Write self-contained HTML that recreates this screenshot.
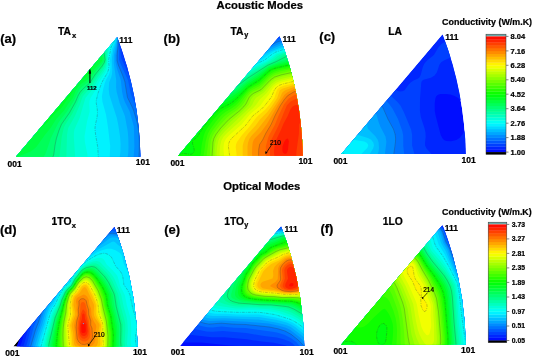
<!DOCTYPE html>
<html><head><meta charset="utf-8"><style>
html,body{margin:0;padding:0;background:#fff;width:533px;height:357px;overflow:hidden}
svg{display:block;will-change:transform}
text{font-family:"Liberation Sans",sans-serif;font-weight:bold;fill:#000;stroke:#000;stroke-width:0.22px}
.tk{font-size:8px}
</style></head><body>
<svg width="533" height="357" viewBox="0 0 533 357">
<rect width="533" height="357" fill="#fff"/>
<clipPath id="clipa"><path d="M16.0 156.8L140.4 156.8A351.2 351.2 0 0 0 117.2 37.3Z"/></clipPath>
<g clip-path="url(#clipa)">
<path d="M16.0 156.8L140.4 156.8A351.2 351.2 0 0 0 117.2 37.3Z" fill="#0026ff"/>
<path d="M14.8 158.8L143 158.8 143 97.6 133.6 74.1 124.1 53.1 121.2 41.1 121.3 38.8 122.5 34.3 14 34.3 14 158.8Z" fill="#0026ff"/>
<path d="M14.8 158.8L143 158.8 143 106.2 131.6 75.6 122.8 54.9 120.1 40.3 121.5 34.3 14 34.3 14 158.8Z" fill="#0040ff"/>
<path d="M14.8 158.8L143 158.8 143 116.5 139.3 105.6 134.1 92.1 129.6 77.1 121.3 58.3 119.2 40.3 120.6 34.3 14 34.3 14 158.8Z" fill="#0059ff"/>
<path d="M14.8 158.8L143 158.8 143 134.7 140.5 120.6 136.2 107.1 130.9 94.3 128 80.1 119.8 62.1 119 59.8 119.1 46.3 118.5 40.3 119.7 34.3 14 34.3 14 158.8Z" fill="#0073ff"/>
<path d="M14.8 158.8L138.7 158.8 139.3 149.8 139.3 140.8 138.6 131.1 137.3 122.8 133.2 109.2 127.4 97.3 124.8 81.6 123 76.3 118.3 65 117.1 60.6 117.1 55.3 118.1 45.6 118 40.3 118.9 34.3 14 34.3 14 158.8Z" fill="#008cff"/>
<path d="M14.8 158.8L133.5 158.8 134.4 146.8 133.9 126.6 129.5 110.9 125 102.3 123.4 98.1 122.1 92.1 120.8 80.1 117 68.8 115.5 62.1 115.4 55.3 117.1 45.6 118.1 34.3 14 34.3 14 158.8Z" fill="#00a6ff"/>
<path d="M14.8 158.8L127.4 158.8 128.2 153.6 128.5 147.6 128.3 137.8 127.7 131.1 124.9 116.1 119.7 103.3 116.7 92.1 116.1 87.6 116.2 80.1 113.8 63.6 113.9 55.3 116.6 42.6 117.3 34.3 14 34.3 14 158.8Z" fill="#00bfff"/>
<path d="M14.8 158.8L119.5 158.8 120.4 152.1 120.6 143.8 120 136.3 118.3 125.1 116.7 117.6 109.4 95.1 108.7 89.1 109.2 82.3 111.3 77.1 112 74.1 112.3 69.6 111.9 62.1 112 57.6 113.3 50.1 116.3 41.1 116.5 34.3 14 34.3 14 158.8Z" fill="#00d9ff"/>
<path d="M14.8 158.8L109.7 158.8 110.2 146.1 108.1 128.1 106 114.6 102.5 101.9 101.9 96.6 103.2 89.1 104.8 83.1 106.2 79.4 108.9 74.8 110.1 71.1 110.5 66.6 109.9 59.8 112.2 48.6 115.8 40.3 115.6 34.3 14 34.3 14 158.8Z" fill="#00f2ff"/>
<path d="M14.8 158.8L98.4 158.8 97.8 147.6 95.6 134.8 95 128.8 95.2 125.8 97 117.6 97.5 113.1 97.3 109.3 96.3 103.3 96.3 100.3 97.9 93.6 101.3 83.8 103.1 80.1 107 73.5 108.3 70.3 109 65.8 108.6 59.8 111.1 47.1 114.9 40.3 114.7 34.3 14 34.3 14 158.8Z" fill="#00fff2"/>
<path d="M14.8 158.8L87.5 158.8 87.4 154.3 84.9 142.3 84.5 136.3 87.1 121.3 89.7 111.6 89.3 104.1 89.5 101.1 90.5 98.1 95.3 90.6 99.5 81.6 104.9 73.3 106.8 69.6 107.8 65.7 107.8 59.8 109.3 47.8 110.3 44.8 113 41.8 113.8 40.3 114 38 113.7 34.3 14 34.3 14 158.8Z" fill="#00ffd9"/>
<path d="M14.8 158.8L75.3 158.8 73.8 137.1 73.9 132.6 74.4 129.6 79.5 118.3 85.4 98.1 93.5 88.3 97.9 80.1 103.8 71.8 105.8 68.1 106.9 63.6 108.1 47.1 109.2 44.1 112.5 39.6 112.8 37.3 112.6 34.3 14 34.3 14 158.8Z" fill="#00ffbf"/>
<path d="M14.8 158.8L66.3 158.8 67 134.8 68.2 128.1 75 116.1 79.5 105.6 82.7 96.6 84.5 94.2 92 86.5 96.5 78.8 102.5 70.8 104.8 67.1 105.8 64.3 106.3 61.3 106.7 47.1 107.8 43.9 111.1 38.8 111.3 34.3 14 34.3 14 158.8Z" fill="#00ffa6"/>
<path d="M14.8 158.8L59.2 158.8 61.7 137.1 63.9 127.3 65.5 124.3 71.8 114.6 77.1 104.1 80.8 95.1 83.8 91.4 91 84.6 95.8 76.8 102.5 68.1 104.3 65.1 105.4 62.1 105.8 59.8 105.2 50.8 105.5 46.3 106.5 43.3 109.4 38.1 109.8 34.3 14 34.3 14 158.8Z" fill="#00ff8c"/>
<path d="M14.8 158.8L52.4 158.8 53.8 154.3 55 145.3 56.4 138.6 59 130.3 61.5 124.3 69.5 112.8 75.5 102.1 78.1 95.8 80 92.4 82.9 89.1 89.8 83.1 95 74.8 101.8 66.5 104.2 62.8 105.1 59.8 104 51.6 104 47.1 105 43.3 107.7 37.3 108.2 34.3 14 34.3 14 158.8Z" fill="#00ff73"/>
<path d="M14.8 158.8L42.2 158.8 44 156.6 46.2 152.1 50.7 138.6 58 123.6 60.4 119.8 66.5 112.3 74 100.4 78.5 90.7 81.7 86.8 89 81.2 94.4 72.6 101.8 64.1 103.7 61.3 104.1 59.1 102.7 52.3 102.6 47.1 103.4 43.3 105.8 37.3 106.3 34.3 14 34.3 14 158.8Z" fill="#00ff59"/>
<path d="M14.8 158.8L16.7 158.8 18.5 156.8 20 155.7 30.5 151.5 33.5 149.5 36.5 146.7 45 134.8 50.8 127.8 56.2 119.1 64 110.8 68.7 103.3 72.9 98.1 75.9 90.6 78.2 86.8 81.5 83.5 87.5 79.8 94.1 69.6 101.8 61.3 102.6 59.1 101.1 52.3 101 47.1 101.7 43.3 104.4 34.3 14 34.3 14 158.8Z" fill="#00ff40"/>
<path d="M14.3 149.1L30 138.6 41.7 127.3 47 122.8 54.8 113.8 61.6 107.8 66.6 100.3 70.5 95.8 74.5 87.6 77.7 83.1 80.8 80.2 85.1 77.8 86.8 76.2 99.2 58.3 99.4 46.3 102.3 34.3 14 34.3 14 149.3Z" fill="#00ff26"/>
<path d="M14.4 140.8L26.8 131.7 42.5 118.8 57.8 104.8 68 92.4 73 84.6 75.5 81.2 78.2 78.6 83.6 74.8 86 72.4 92.4 63.6 96.3 56.1 97.8 44.8 100.2 34.3 14 34.3 14 141.1Z" fill="#00ff0d"/>
<path d="M14.7 133.3L40.2 113.8 54.2 101.8 65 90 73.4 79.3 76.5 76.3 82.2 71.8 85.2 68.6 89.9 62.1 93.5 55.2 98 34.3 14 34.3 14 133.8Z" fill="#0dff00"/>
<path d="M14.8 126.6L38 109.3 50.8 98.9 60.5 89.3 71.4 77.1 83 66.5 87.5 60.4 90.9 53.8 92.6 48.6 95.7 34.3 14 34.3 14 127.2Z" fill="#26ff00"/>
<path d="M14.7 120.6L37.2 104.2 48.5 95.3 56 88.5 68.6 75.6 80.7 64.3 85.2 58.3 88.4 52.3 90.9 44.8 93.2 34.3 14 34.3 14 121.1Z" fill="#40ff00"/>
<path d="M14.1 115.3L36.5 99.3 47 91.2 55.2 84 77.6 62.8 82.2 57 85.8 50.8 88.5 43.3 90.5 34.3 14 34.3Z" fill="#59ff00"/>
<path d="M14.8 109.4L35.8 94.6 46.2 86.7 56 78.3 74.4 61.3 79.2 55.5 83 49.3 85.9 41.8 87.7 34.3 14 34.3 14 109.9Z" fill="#73ff00"/>
<path d="M14.8 104.2L34.2 90.7 44.8 82.8 56 73.5 70.3 60.6 75.7 54.6 79.6 48.6 82.6 41.8 84.7 34.3 14 34.3 14 104.7Z" fill="#8cff00"/>
<path d="M14.1 99.6L43.2 79.1 55.2 69.4 66.5 59.3 71.8 53.7 76 47.8 79.2 41.1 81.3 34.3 14 34.3Z" fill="#a6ff00"/>
<path d="M14.4 94.3L41.8 75.3 53 66.4 62.3 58.3 68 52.4 72 47.1 75.3 41.1 77.8 34.3 14 34.3 14 94.6Z" fill="#bfff00"/>
<path d="M14.8 89.2L40.2 71.6 50 64 58.3 56.8 64.2 50.8 68.3 45.6 71.4 40.3 73.9 34.3 14 34.3 14 89.7Z" fill="#d9ff00"/>
<path d="M14.3 84.6L38 68.3 47 61.4 54.1 55.3 59.4 50.1 63.8 44.8 67.2 39.6 69.6 34.3 14 34.3 14 84.8Z" fill="#f2ff00"/>
<path d="M14.8 79.4L35.8 64.9 49.6 53.8 55.1 48.6 59 44.1 62.2 39.6 65 34.3 14 34.3 14 79.9Z" fill="#fff200"/>
<path d="M14.2 74.8L32.8 62 45.5 51.8 50.5 47.1 54.5 42.6 57.5 38.5 60 34.3 14 34.3 14 74.9Z" fill="#ffd900"/>
<path d="M14.6 69.6L30.5 58.3 40.8 50.1 49.1 41.8 54.6 34.3 14 34.3 14 69.9Z" fill="#ffbf00"/>
<path d="M14.8 64.3L27.3 55.3 36.5 47.8 43.5 41.1 48.8 34.3 14 34.3 14 64.8Z" fill="#ffa600"/>
<path d="M14.7 59.1L24.8 51.6 32 45.6 38 39.8 42.7 34.3 14 34.3 14 59.6Z" fill="#ff8c00"/>
<path d="M14.4 53.8L27.4 43.3 36.2 34.3 14 34.3 14 54.1Z" fill="#ff7300"/>
<path d="M14.6 47.8L23 40.7 29.4 34.3 14 34.3 14 48.3Z" fill="#ff5900"/>
<path d="M14.3 41.8L18.5 38.1 22.3 34.3 14 34.3 14 42.1Z" fill="#ff4000"/>
<path d="M14.3 35.1L14.8 34.6 15 34.3 14 34.3 14 35.3Z" fill="#ff2600"/>
<path d="M138.7 158.8L139.3 149.8 139.3 140.8 138.6 131.1 137.3 122.8 133.2 109.2 127.4 97.3 124.8 81.6 123 76.3 118.3 65 117.1 60.6 117.1 55.3 118.1 45.6 118 40.3 118.9 34.3" fill="none" stroke="#333" stroke-opacity="0.5" stroke-width="0.5"/>
<path d="M98.4 158.8L97.8 147.6 95.6 134.8 95 128.8 95.2 125.8 97 117.6 97.5 113.1 97.3 109.3 96.3 103.3 96.3 100.3 97.9 93.6 101.3 83.8 103.1 80.1 107 73.5 108.3 70.3 109 65.8 108.6 59.8 111.1 47.1 114.9 40.3 114.7 34.3" fill="none" stroke="#333" stroke-opacity="0.5" stroke-width="0.5" stroke-dasharray="3 1 1 1"/>
<path d="M52.4 158.8L53.8 154.3 55 145.3 56.4 138.6 59 130.3 61.5 124.3 69.5 112.8 75.5 102.1 78.1 95.8 80 92.4 82.9 89.1 89.8 83.1 95 74.8 101.8 66.5 104.2 62.8 105.1 59.8 104 51.6 104 47.1 105 43.3 107.7 37.3 108.2 34.3" fill="none" stroke="#333" stroke-opacity="0.5" stroke-width="0.5"/>
<path d="M14 133.8L40.2 113.8 54.2 101.8 65 90 73.4 79.3 76.5 76.3 82.2 71.8 85.2 68.6 89.9 62.1 93.5 55.2 98 34.3" fill="none" stroke="#333" stroke-opacity="0.5" stroke-width="0.5" stroke-dasharray="3 1 1 1"/>
<path d="M14 104.7L34.2 90.7 44.8 82.8 56 73.5 70.3 60.6 75.7 54.6 79.6 48.6 82.6 41.8 84.7 34.3" fill="none" stroke="#333" stroke-opacity="0.5" stroke-width="0.5"/>
<path d="M14 79.9L35.5 65.1 49.6 53.8 55.1 48.6 59 44.1 62.2 39.6 65 34.3" fill="none" stroke="#333" stroke-opacity="0.5" stroke-width="0.5" stroke-dasharray="3 1 1 1"/>
<path d="M14 54.1L27.4 43.3 36.2 34.3" fill="none" stroke="#333" stroke-opacity="0.5" stroke-width="0.5"/>
</g>
<clipPath id="clipb"><path d="M178.3 155.8L302.7 155.8A351.2 351.2 0 0 0 279.5 36.3Z"/></clipPath>
<g clip-path="url(#clipb)">
<path d="M178.3 155.8L302.7 155.8A351.2 351.2 0 0 0 279.5 36.3Z" fill="#0040ff"/>
<path d="M177.1 157.8L305.3 157.8 305.3 33.3 278.2 33.3 269.3 36.6 242.3 49.5 225.8 56.5 215.3 60.3 176.3 73.1 176.3 157.8Z" fill="#0026ff"/>
<path d="M177.1 157.8L305.3 157.8 305.3 33.3 284.2 33.3 271.7 37.8 243.8 51.3 226.6 58.8 216.1 62.7 176.3 76.1 176.3 157.8Z" fill="#0040ff"/>
<path d="M177.1 157.8L305.3 157.8 305.3 33.3 289.2 33.3 282.1 36.4 273.2 39.3 246.8 52.4 226.6 61.5 176.3 79 176.3 157.8Z" fill="#0059ff"/>
<path d="M177.1 157.8L305.3 157.8 305.3 33.3 294 33.3 283.7 37.8 274.7 40.8 249.5 53.6 227.3 63.8 217.6 67.5 191.3 76.3 176.3 82 176.3 157.8Z" fill="#0073ff"/>
<path d="M177.1 157.8L305.3 157.8 305.3 33.3 298.9 33.3 285.8 39.1 276.5 42.3 271.1 45.3 261.8 49.3 251.5 55.1 227.3 66.4 218.3 69.8 192.8 78.6 176.3 85.1 176.3 157.8Z" fill="#008cff"/>
<path d="M177.1 157.8L305.3 157.8 305.3 33.3 303.1 33.6 264.1 50.4 254.9 55.8 227.3 68.9 195.1 80.6 176.3 88.1 176.3 157.8Z" fill="#00a6ff"/>
<path d="M177.1 157.8L305.3 157.8 305.3 34.8 265.1 52.1 256.8 57.3 246.1 62.1 228.1 71.2 196.5 82.8 176.3 91.3 176.3 157.8Z" fill="#00bfff"/>
<path d="M177.1 157.8L305.3 157.8 305.3 36.9 292.6 42.1 282.8 46.7 271.6 51 264.8 54.5 259.6 58.3 247.6 63.6 228.8 73.4 197.9 85.1 176.3 94.5 176.3 157.8Z" fill="#00d9ff"/>
<path d="M177.1 157.8L305.3 157.8 305.3 39 292.6 44 283 48.3 273.8 51.6 269.1 54.3 261.8 59.6 249.1 64.9 228.8 75.9 199.6 87.2 176.3 97.8 176.3 157.8Z" fill="#00f2ff"/>
<path d="M177.1 157.8L305.3 157.8 305.3 41 284.3 49.2 275.3 52.3 272 54.3 264.4 60.3 250.3 66.3 231.1 77.4 201.1 89.3 176.3 101.3 176.3 157.8Z" fill="#00fff2"/>
<path d="M177.1 157.8L305.3 157.8 305.3 42.9 276.1 53.4 265.6 61.3 251.2 67.8 231.8 79.5 203.3 91.2 176.3 104.8 176.3 157.8Z" fill="#00ffd9"/>
<path d="M177.1 157.8L305.3 157.8 305.3 44.9 276.8 54.6 272.3 58.5 267.1 61.8 251.3 69.7 232.6 81.6 204.8 93.3 176.3 108.5 176.3 157.8Z" fill="#00ffbf"/>
<path d="M177.1 157.8L305.3 157.8 305.3 46.8 283.3 53.6 279.6 55.1 277.1 56.6 273.8 59.6 252.1 71.3 233.3 83.7 206.3 95.4 176.3 112.4 176.3 157.8Z" fill="#00ffa6"/>
<path d="M177.1 157.8L305.3 157.8 305.3 48.7 285.8 54.3 282.1 55.8 275.3 60.5 267.8 64 252.1 73.3 234.1 85.7 208.6 97.2 176.3 116.5 176.3 157.8Z" fill="#00ff8c"/>
<path d="M177.1 157.8L305.3 157.8 305.3 50.6 287.3 55.9 275.7 61.8 267.8 65.2 248.3 77.7 234.8 87.7 230.3 90 216.8 95.8 210 99.3 176.3 120.8 176.3 157.8Z" fill="#00ff73"/>
<path d="M177.1 157.8L305.3 157.8 305.3 52.5 291.1 56.8 285.1 59.9 279.8 61.4 268.6 65.9 246.8 80.7 235.6 89.7 231.1 92.1 217.6 98.1 211.3 101.6 190.6 116.2 176.3 125.6 176.3 157.8Z" fill="#00ff59"/>
<path d="M177.1 157.8L305.3 157.8 305.3 54.4 294.1 57.7 285.8 61.5 279.1 63.2 271.6 65.7 268.6 67.1 257.3 75.7 246.8 82.6 236.3 91.5 231.8 94.1 218.3 100.5 212.8 103.8 206.5 108.3 192.8 119.4 176.3 130.8 176.3 157.8Z" fill="#00ff40"/>
<path d="M177.1 157.8L305.3 157.8 305.3 56.3 294.8 59.4 285.8 63 278.3 64.8 269.5 67.8 258.1 77.2 247.1 84.3 240.8 90.2 235.6 94.3 228.1 98.6 219 103.1 211.3 108.3 195.1 123 182.3 132.2 176.3 137 176.3 157.8Z" fill="#00ff26"/>
<path d="M177.1 157.8L305.3 157.8 305.3 58.2 296.3 60.7 286.6 64.2 278.3 66.1 270.1 68.8 266.5 71.6 258.8 78.5 247.5 85.8 240.8 92.4 234.8 97.4 228.8 101.3 220.6 105.2 215.3 108.8 210 113.6 196.6 128 186.2 136.1 176.3 145.1 176.3 157.8Z" fill="#00ff0d"/>
<path d="M177.1 157.8L305.3 157.8 305.3 60.1 287.3 65.4 275.3 68.2 271.6 69.5 269.3 70.9 259.6 79.9 247.6 87.6 237.8 97.5 233.3 101.4 229.6 104 220.6 108.5 216.8 111.4 213 115.1 203.5 127.1 197.3 137 192.7 140.6 192.5 143.6 193.9 148.1 194.2 150.3 194 151.8 193 153.3 190.6 154.3 183.8 153.5 180.8 153.7 179.3 154.4 176.3 156.6 176.3 157.8Z" fill="#0dff00"/>
<path d="M199.6 157.8L305.3 157.8 305.3 62 287.3 66.9 279 68.6 273.8 70.1 270.8 71.6 267.8 73.9 259.6 81.9 248.3 88.8 237.8 100.4 234.1 103.8 230.3 106.5 223.6 110 218.9 113.6 213.5 119.6 207 128.6 204.9 132.3 203.6 136.1 201.8 144.3 200.7 154.1 198.9 157.8Z" fill="#26ff00"/>
<path d="M203.3 157.8L305.3 157.8 305.3 63.8 287.3 68.4 279.1 70.1 274.6 71.5 271.6 72.9 268.4 75.3 259.6 83.9 251.3 88.4 248.7 90.3 245.3 94.1 239.3 101.8 235.6 105.5 231.8 108.3 225.4 112.1 221.6 115.1 216.1 121.2 209.8 130.1 207.8 133.8 205.7 141.3 204.2 151.8 203 157.8Z" fill="#40ff00"/>
<path d="M206.3 157.8L305.3 157.8 305.3 65.7 279.7 71.5 273.8 73.5 269.3 76.5 262.6 83.5 259.6 86.1 252.1 89.9 249.4 91.8 246.7 94.8 241.6 102.3 239.3 105.1 235.6 108.4 227.8 113.6 223.6 117.1 218.3 122.9 212.5 130.8 210.1 135.3 208.7 139.8Z" fill="#59ff00"/>
<path d="M209.3 157.8L305.3 157.8 305.3 67.6 280.6 73.2 274.6 75.1 270.1 78 260.3 87.9 252.8 91.5 249.8 93.7 247.7 96.3 243.8 103 241.4 106.1 237.4 109.8 229.9 115.1 226.5 118.1 219.8 125.2 214.5 132.3 212.3 136.3 210.9 140.6 210.2 145.8 209.9 154.1Z" fill="#73ff00"/>
<path d="M212.3 157.8L305.3 157.8 305.3 69.6 281.3 74.9 274.6 77.1 270.1 80.3 261.1 89.7 253.7 93.3 250.7 95.6 249 97.8 246.1 103.8 243.8 106.8 239.3 111.1 228.8 119.6 220.6 128.3 216.1 134.3 214 138.3 212.9 142.8 212 157.8Z" fill="#8cff00"/>
<path d="M214.6 157.8L305.3 157.8 305.3 71.5 282.8 76.5 275.3 78.8 270.8 82 262.5 91.1 255.6 94.8 252.8 96.9 251.3 99 249.1 104.3 247.1 106.8 240.8 112.9 230.3 122 222.1 130.4 218.2 135.3 216.3 139.1 215.1 143.6 214.6 150.3Z" fill="#a6ff00"/>
<path d="M217.6 157.8L305.3 157.8 305.3 73.4 282.8 78.4 276.1 80.5 271.6 83.8 263.9 92.6 256.1 97.8 254.4 100.1 252.3 104.6 250.6 106.8 225.1 131 220.2 136.8 218.4 140.6 217.3 145.8 216.5 154.1 216.9 157.8Z" fill="#bfff00"/>
<path d="M220.6 157.8L305.3 157.8 305.3 75.4 298.6 76.5 280.6 80.8 276.1 82.7 273 85.1 266.3 93.4 259.9 99.3 256.3 104.6 253.7 107.6 247.8 112.8 240.1 121.2 227.3 132.7 223.5 136.8 221.3 140.7 220.1 145.8 219.5 154.1 220 157.8Z" fill="#d9ff00"/>
<path d="M225.1 157.8L305.3 157.8 305.3 77.4 297.8 78.5 282.1 82.3 277.6 84 274.6 86.3 272.4 88.8 268.8 94.8 264.4 100.1 260.3 105.7 249.8 114.4 241.6 124.5 229.6 134.9 225.8 139 224.1 142.8 223.5 147.3 223.6 151.1 224.4 157.8Z" fill="#f2ff00"/>
<path d="M230.3 157.8L305.3 157.8 305.3 79.4 297.8 80.4 282.8 84 279.1 85.4 276.4 87.3 274.2 90.3 271.4 97.1 264.4 106.1 261.4 109.1 252.8 115.9 245.3 125.8 231.8 138.2 229.9 140.6 228.7 143.6 228.4 146.6 229.9 157.8Z" fill="#fff200"/>
<path d="M237.1 157.8L305.3 157.8 305.3 81.5 297.1 82.4 283.6 85.8 279.8 87.3 277.9 88.8 276.6 91.1 274.4 97.8 269.3 105 264.8 110.1 258.9 115.1 255.9 118.1 249.8 126.3 241.8 135.3 237 142.1 236.1 144.3 235.7 147.3 236.5 154.1 236.6 157.8Z" fill="#ffd900"/>
<path d="M243.1 157.8L305.3 157.8 305.3 83.6 299.3 84 294.1 84.9 282.8 88.4 279.8 90.3 277.3 97.8 271.6 106.4 267.1 112.2 259.9 119.6 255.6 125.6 248.3 133.6 245.5 137.6 243.6 142.1 242.7 145.8 242.7 157.8Z" fill="#ffbf00"/>
<path d="M248.3 157.8L305.3 157.8 305.3 85.9 299.3 86 294.1 86.9 285.2 90.3 282.8 91.9 281.9 93.3 279.7 98.6 268.6 115.3 258.3 128.6 251.3 136 249.3 139.1 248 142.8 247.5 146.6 247.6 157.8Z" fill="#ffa600"/>
<path d="M252.8 157.8L305.3 157.8 305.3 88.5 299.3 88.3 294.1 89 287.1 92.6 284.5 94.8 277.7 105.3 267.1 123.8 261.1 132 255.1 137.9 253.8 139.8 252.7 142.8 252.2 147.3 252 154.1 252.3 157.8Z" fill="#ff8c00"/>
<path d="M258.8 157.8L305.3 157.8 305.3 91.4 297.8 90.9 295.6 91.3 293.3 92.1 288.8 94.8 286.9 96.3 281.4 103.8 275.7 114.3 270.9 124.8 265.9 133.1 262.7 139.8 259.7 144.3 258.9 147.3 258.5 151.8 258.5 157.8Z" fill="#ff7300"/>
<path d="M265.6 157.8L305.3 157.8 305.3 94.9 299.3 94.1 296.3 94.5 294.1 95.3 288.8 98.6 286.6 100.9 283.9 104.6 278.5 115.8 274.9 124.8 269.9 133.8 268.2 137.6 265.8 146.6 266 154.1Z" fill="#ff5900"/>
<path d="M270.1 157.8L305.3 157.8 305.3 155.9 304.5 154.1 304.4 152.6 305.3 147.5 305.3 99.6 300.1 98.5 295.6 99.1 290.6 101.6 286.9 105.3 278.3 126.1 271.3 139.8 269.9 148.1Z" fill="#ff4000"/>
<path d="M274.6 157.3L274.7 157.8 296.1 157.8 296.5 151.1 298.9 133.8 299.1 124.8 300.1 122.6 304.1 116.6 305.3 112.8 305.1 110.6 304.5 109.1 303.5 107.6 301.6 106 298.6 104.9 294.9 105.3 292.3 106.8 290.3 109.5 287.8 115.8 283.6 123.5 280.9 130.1 275.5 141.3 274.6 145.8 273.9 151.8Z" fill="#ff2600"/>
<path d="M284.3 153.7L285.8 153.7 286.6 153.2 287.4 151.8 288 149.6 288.8 141.3 288.2 139.1 287.3 138.5 285.8 139.6 284.3 141.8 282.5 146.6 282.4 151.1 283 152.6Z" fill="#ff0d00"/>
<path d="M298.9 33.3L285.8 39.1 276.5 42.3 271.1 45.3 261.8 49.3 251.5 55.1 227.3 66.4 218.3 69.8 192.8 78.6 176.3 85.1" fill="none" stroke="#333" stroke-opacity="0.5" stroke-width="0.5"/>
<path d="M305.3 41L284.3 49.2 275.3 52.3 272 54.3 264.4 60.3 250.3 66.3 231.1 77.4 201.1 89.3 176.3 101.3" fill="none" stroke="#333" stroke-opacity="0.5" stroke-width="0.5" stroke-dasharray="3 1 1 1"/>
<path d="M305.3 50.6L287.3 55.9 275.7 61.8 267.8 65.2 248.3 77.7 234.8 87.7 230.3 90 216.8 95.8 210 99.3 176.3 120.8" fill="none" stroke="#333" stroke-opacity="0.5" stroke-width="0.5"/>
<path d="M305.3 60.1L287.3 65.4 275.3 68.2 271.6 69.5 269.3 70.9 259.6 79.9 247.6 87.6 237.8 97.5 233.3 101.4 229.6 104 220.6 108.5 216.8 111.4 213 115.1 203.5 127.1 197.3 137 192.7 140.6 192.5 143.6 193.9 148.1 194.2 150.3 194 151.8 193 153.3 191.8 154.1 189.8 154.3 184.6 153.5 181.6 153.6 179.3 154.4 176.3 156.6" fill="none" stroke="#333" stroke-opacity="0.5" stroke-width="0.5" stroke-dasharray="3 1 1 1"/>
<path d="M305.3 69.6L281.3 74.9 274.6 77.1 270.1 80.3 261.1 89.7 253.7 93.3 250.7 95.6 249 97.8 246.1 103.8 243.8 106.8 239.3 111.1 228.8 119.6 220.6 128.3 216.1 134.3 214 138.3 213 142.1 212 157.8" fill="none" stroke="#333" stroke-opacity="0.5" stroke-width="0.5"/>
<path d="M305.3 79.4L297.8 80.4 282.8 84 279.1 85.4 276.4 87.3 274.2 90.3 271.4 97.1 264.4 106.1 261.4 109.1 252.8 115.9 245.3 125.8 231.8 138.2 229.9 140.6 228.7 143.6 228.4 146.6 229.9 157.8" fill="none" stroke="#333" stroke-opacity="0.5" stroke-width="0.5" stroke-dasharray="3 1 1 1"/>
<path d="M305.3 91.4L298.6 90.9 294.1 91.7 287.7 95.6 284.3 99.6 280 106.1 275.3 115.1 270.9 124.8 265.9 133.1 262.7 139.8 259.7 144.3 258.7 149.6 258.5 157.8" fill="none" stroke="#333" stroke-opacity="0.5" stroke-width="0.5"/>
</g>
<clipPath id="clipc"><path d="M341.4 154.0L465.8 154.0A351.2 351.2 0 0 0 442.6 34.5Z"/></clipPath>
<g clip-path="url(#clipc)">
<path d="M341.4 154.0L465.8 154.0A351.2 351.2 0 0 0 442.6 34.5Z" fill="#000dff"/>
<path d="M340.1 156L468.4 156 468.4 31.5 430.5 31.5 421.1 40.6 415.1 45.3 407.6 49.9 404.6 51.1 402.4 51.4 400.1 51.2 397.9 50.3 393.4 46.9 388.1 40.7 381.9 31.5 339.4 31.5 339.4 156ZM446.3 141L444.4 140.2 442.9 138.9 440.7 135 435.6 115.5 434.8 111 434.7 103.5 435.4 98.2 436.1 96.6 437.3 95.2 438.6 94.5 440.6 94 445.9 94.1 450.4 94.6 454.1 95.8 457.9 97.8 460.9 100.5 463.8 104.2 465.7 108 466.9 112.5 467 117.8 466.2 126 464.8 130.5 462.6 134.2 459.5 138 456.4 140 451.1 141.2Z" fill="#0026ff"/>
<path d="M340.1 156L433.3 156 426.5 148.5 425.1 145.5 425 143.2 425.7 136.5 425.5 132.8 424.5 128.2 420.8 117 419.9 111 420 99 421.3 82.5 421.9 80.9 423.4 79.7 430.9 77.8 434.6 75.6 436.9 72.2 439.5 64.5 441.4 62 444.4 60.2 453.6 56.2 456 54.8 458.5 52.5 460 50.2 460.8 47.2 460.4 45 458.9 42.8 455.6 40.7 451.1 40.1 445.9 41.3 441.4 43.9 438.5 47.2 433.9 55.1 427.1 60.5 424.3 63.8 422.9 66.8 420.7 75 419.6 77.3 418.1 78.5 413.6 80.5 410.6 82.5 408.5 84.8 404.6 90.3 402.4 91.3 400.1 91.4 397.9 90.9 396 90 392.7 86.2 357.9 31.5 339.4 31.5 339.4 156Z" fill="#0040ff"/>
<path d="M340.1 156L414.9 156 412.1 145.5 412.1 135 411.2 129.8 404 112.5 400.6 105.8 397.5 102 387.7 93 379.2 83.3 357.3 56.2 339.4 32.4 339.4 156Z" fill="#0059ff"/>
<path d="M340.1 156L404.4 156 403.3 146.2 403.2 135.8 402.4 131.2 397.9 118.8 392.6 108.8 389.4 104.2 386.1 100.5 358.2 74.2 339.4 54.3 339.4 156Z" fill="#0073ff"/>
<path d="M340.1 156L393.5 156 395.3 144 395.6 138.8 395.1 134.2 393.7 129.8 387.6 118.5 383.6 109 381.4 105.5 375.1 99.8 352.4 82.5 339.4 71.2 339.4 156Z" fill="#008cff"/>
<path d="M340.1 156L384.7 156 386.4 141.8 385.5 136.5 380.4 126.8 378.4 121.5 376.6 114.8 373.9 110.1 368.6 105.4 351.4 94.5 339.4 85.9 339.4 156Z" fill="#00a6ff"/>
<path d="M340.1 156L376.9 156 378.6 151.5 379 147.8 378.6 142.5 377.6 139.5 375.4 136.2 368.1 129 367.3 126.8 367.2 121.5 366 119.2 362.3 116.2 339.4 100.5 339.4 156Z" fill="#00bfff"/>
<path d="M340.1 156L368.5 156 373.1 148.5 374 145.5 373.3 142.5 370.9 139.6 367.9 138 358.1 135.1 355.5 133.5 352 130.5 339.4 117.4 339.4 156Z" fill="#00d9ff"/>
<path d="M340.1 156L359.4 156 367.4 147.8 368.2 145.5 367.8 144 366.3 142.5 364.1 141.6 353.6 139.8 349.1 138.5 344.6 136.4 339.4 133.1 339.4 156Z" fill="#00f2ff"/>
<path d="M340.1 156L343.9 156 343.9 154.5 343.6 153 342.6 151.5 339.4 148.8 339.4 156Z" fill="#00fff2"/>
<path d="M393.5 156L395.5 141.8 395.6 138 395.1 134.2 393.4 129 388 119.2 382.7 107.2 380.6 104.7 376.9 101.2 354.3 84 339.4 71.2" fill="none" stroke="#333" stroke-opacity="0.5" stroke-width="0.5"/>
<path d="M343.9 156L343.8 153.8 343.2 152.2 341.9 150.8 339.4 148.8" fill="none" stroke="#333" stroke-opacity="0.5" stroke-width="0.5" stroke-dasharray="3 1 1 1"/>
</g>
<clipPath id="clipd"><path d="M13.2 346.5L137.6 346.5A351.2 351.2 0 0 0 114.4 227.0Z"/></clipPath>
<g clip-path="url(#clipd)">
<path d="M13.2 346.5L137.6 346.5A351.2 351.2 0 0 0 114.4 227.0Z" fill="#000"/>
<path d="M15.7 348.5L140.2 348.5 140.2 224 102.9 224 97.5 227.8 92.2 232.6 86.2 239.1 80.2 246.8 63.2 272.8 41.9 295.2 35.6 303.5 28.5 315.5 25 322.2 23 327.5 19.4 339.5Z" fill="#000dff"/>
<path d="M19.4 348.5L140.2 348.5 140.2 224 108.4 224 104.2 225.9 100.5 228.3 96 231.9 90.7 237 84.7 243.6 79.5 250.5 63.7 274.2 44.1 295.2 37.7 303.5 26.8 323.8 21.7 342.2 19 348.5Z" fill="#0026ff"/>
<path d="M22.4 348.5L140.2 348.5 140.2 226.9 133.4 226 126.7 225.6 114.7 225.5 109.5 226.3 105.7 227.8 101.2 230.5 96 234.7 90 240.5 84.7 246.3 79.5 253 64.7 275 56.8 283.2 45.5 296 39.8 303.5 29.1 324.5 24.6 342.5Z" fill="#0040ff"/>
<path d="M25.4 348.5L140.2 348.5 140.2 231.4 134.2 230.1 128.2 229.3 118.5 229 114 228.4 109.5 228.9 105.7 230.3 101.5 233 95.2 238.2 89.2 243.9 84 249.7 78 257.4 65.7 275.8 57.1 284.8 45 299.1 41.8 303.5 39.3 308 31.4 325.2 27.3 342.5Z" fill="#0059ff"/>
<path d="M28.4 348.5L140.2 348.5 140.2 236.3 133.4 234 126.7 232.6 116.2 232 112.5 231.1 109.5 231.3 106.5 232.5 102.2 235.2 89.2 246.4 84 252.1 78 259.5 66 277.2 58.7 284.8 45.7 300.7 43.2 304.2 40.7 309.5 33.5 327.5 29.4 344 27.8 348.5Z" fill="#0073ff"/>
<path d="M30.7 348.5L140.2 348.5 140.2 241.8 133.1 238.2 126 235.7 120.6 234.5 112.5 233.3 110.2 233.4 107.3 234.5 103.5 237.2 93.7 244.8 89.2 248.8 78.7 260.5 66.8 278 60.1 284.8 45.2 304.2 42.4 310.2 38.2 323 35.3 330.5 30.2 348.5Z" fill="#008cff"/>
<path d="M33 348.5L140.2 348.5 140.2 248.7 133.4 243.5 125.3 239 117.8 236 111.7 235.2 109.5 235.8 108 236.6 90 250.5 83.2 257.2 78 263.2 67.5 279 60.9 285.5 46.6 305 44.1 311 40.4 323.8 36.5 334.2 32.3 348.5Z" fill="#00a6ff"/>
<path d="M34.5 348.5L140.2 348.5 140.2 259.5 136.5 254 132.6 249.5 128.3 245.8 117.6 238.2 115.5 237.4 111.7 237.4 109.8 238.2 103 243.5 93.7 249.7 83.2 259.1 77.1 266 67.8 280.2 63.5 284 61.6 286.2 55.8 294.5 52.2 300.5 48.1 305.8 45.4 312.5 42.2 324.5 38.7 334.2Z" fill="#00bfff"/>
<path d="M36.7 348.5L140.2 348.5 140.2 280.6 136.4 270.5 130.8 257.8 128.1 253.2 125.2 249.9 118 245 114.9 242 113.2 241.6 111.7 241.9 94.5 251.5 86.2 258.1 79.5 264.6 72.6 274.2 68.2 281.4 64.5 284.4 62.2 287 56.8 295.2 53.2 302 49.4 307.2 46.8 314 44.1 324.5 40.3 335.8Z" fill="#00d9ff"/>
<path d="M39 348.5L140.2 348.5 140.2 312 136.3 294.5 134.8 289.2 128.6 272.8 123.7 263.8 121.9 255.5 120 252.9 115.5 250.2 111.1 248.8 107.2 248.8 102.7 250 97.5 252.1 92.2 255.4 84 261.7 78.8 266.8 72.6 275.8 69 282.1 65.2 285 62.9 287.8 57.5 296.8 54 303.9 50.3 309.5 48 315.5 45.7 325 42.4 335 38.5 348.5Z" fill="#00f2ff"/>
<path d="M41.2 348.5L137 348.5 135.8 344 135.4 339.5 135.7 335 137.2 326.8 137.2 323.8 132.7 308 130.1 295.2 128.1 290.8 123.9 284.8 122.8 276.5 121.7 273.5 115.6 266 112.2 258.5 109.7 255.5 105.7 253.5 103.5 253.3 101.2 253.6 96 255.5 87 261 82.5 264.4 79.5 267.4 73 276.5 69.3 283.2 66 285.5 64 287.8 58.4 297.5 55.4 304.2 52 309.5 50.3 313.2 40.5 348.5Z" fill="#00fff2"/>
<path d="M42.7 348.5L132 348.5 130.6 342.5 131.3 329.8 130.7 320 129.8 315.5 126.8 305 124.9 295.2 120.1 285.5 117.9 277.2 117 275.2 112.2 269.8 106.7 264.5 104.2 260 102.7 258.5 101.2 257.9 99 257.7 94.5 258.8 88.5 261.6 82.5 265.7 79.1 269 73.9 276.5 69.7 284.2 66 286.8 63.9 289.2 59.1 298.2 56.3 305 52.8 311 51.2 314.8 48.6 325.2 45 337.2 42.4 348.5Z" fill="#00ffd9"/>
<path d="M44.2 348.5L128.1 348.5 127 344 127.9 330.5 127.3 320.8 126.4 316.2 123.6 306.5 121.3 295.2 114.7 279.5 113.1 276.5 109.6 272 99.7 261.8 96.7 260.9 93 261.4 87.7 263.5 82.5 266.8 79.5 269.8 74.2 277.2 70.1 284.8 66.7 287.2 64.5 289.9 59.8 299 57.4 305 53.9 311.8 52.3 315.5 46.3 338Z" fill="#00ffbf"/>
<path d="M45.7 348.5L125.4 348.5 124.6 342.5 125.4 329.8 125.2 323.8 124.1 318.5 120.8 306.5 118.1 293.8 112.5 281 109.8 276.5 106.9 272.8 98.2 264.2 95.2 263.2 92.2 263.4 87 265.2 82.5 267.9 79.8 270.5 77.2 274.6 74.4 278 70.5 285.3 66.7 288.2 64.8 290.8 60.4 299.8 58.5 305 53.3 316.2 47.5 338.8Z" fill="#00ffa6"/>
<path d="M47.2 348.5L123.2 348.5 122.5 341.8 123 324.5 118.6 307.2 116 293.8 110.8 282.5 107.7 277.2 105.7 274.7 99.7 268.4 96.7 266 93.7 265 90.7 265.2 86.2 266.6 82.5 268.8 80.2 271.1 77.7 275 74.6 278.8 70.9 285.5 67.4 288.5 65.5 290.8 61.2 299.8 59.2 305.5 54.3 317 48.3 341Z" fill="#00ff8c"/>
<path d="M48.7 348.5L121.3 348.5 120.7 341.8 121 329 120.8 324.5 116.3 306.5 114.1 293.8 109.5 284 106.5 278.9 99.1 270.5 96 267.8 93 266.6 89.9 266.7 86.2 267.7 82.5 269.8 80.3 272 78 275.6 75.3 278.8 71.5 285.5 67.5 289.2 65.8 291.5 61.9 299.8 60 305.8 54.9 318.5 48.9 344 48.3 348.5Z" fill="#00ff73"/>
<path d="M50.2 348.5L119.4 348.5 118.9 342.5 119.1 331.2 118.8 325.2 114.2 305.8 112.6 294.5 108.4 285.5 105.2 280.2 98.2 272 94.5 268.8 91.5 267.9 88.5 268.1 85.5 268.9 82.5 270.7 80.4 272.8 75.4 279.5 72 285.7 67.6 290 66 292.2 62.6 299.8 55.8 319.2 50.1 344.8 49.7 348.5Z" fill="#00ff59"/>
<path d="M51.7 348.5L117.7 348.5 117.3 344 117.5 332.8 117 326 115.1 316.2 112.1 305 110.8 294.5 107 286.2 104.2 281.8 97.5 273.5 93.7 270.1 91.5 269.3 88.5 269.1 85.5 269.8 82.5 271.5 75.7 279.9 72.1 286.2 68.3 290 66.7 292.2 63 300.5 56.4 320.8 51.5 344.8 51.2 348.5Z" fill="#00ff40"/>
<path d="M53.2 348.5L116.1 348.5 115.7 344 116 333.5 115.4 326.8 113.4 315.5 110.4 305 109 294.5 105.7 287 102.4 281.8 95.6 273.5 92.2 270.8 90 270.2 87 270.3 84.7 271 82.5 272.4 76.1 280.2 72.6 286.2 68.3 290.8 66.8 293 63.4 301.2 56.7 323.8 53.1 344.8 52.7 348.5Z" fill="#00ff26"/>
<path d="M54.7 348.5L114.6 348.5 114.3 344 114.6 334.2 114.1 329 111.9 315.5 108.8 305 108.1 297.5 107.4 294.5 104.4 287.8 100.1 281 94.6 274.2 91.5 271.8 89.2 271.1 87 271.2 84.7 271.8 82.5 273.2 76.5 280.6 72.7 286.8 68.9 290.8 67 293.8 64 301.2 57.8 323.8 54.7 344.8 54.4 348.5Z" fill="#00ff0d"/>
<path d="M56.2 348.5L113.3 348.5 113 344.8 113.4 335.8 112.9 330.5 110.8 316.2 107.5 305 106.1 295.2 103.3 288.5 98.1 280.2 93.7 274.9 90.7 272.6 88.5 272.1 86.2 272.2 84 273 82.1 274.2 76.7 281 73.1 287 68.9 291.5 67.2 294.5 64.3 302 59.5 320.8 57.4 333.5Z" fill="#0dff00"/>
<path d="M57.7 348.5L112.1 348.5 111.9 332 110.5 324.5 109.7 317 106.5 305.7 104.9 296 102.2 289.2 96.7 280.2 93 275.5 90 273.4 86.2 273 84 273.8 82.5 274.8 77.2 281.1 73.6 287 69.5 291.5 67.7 294.5 64.9 302 60.5 320.8 58.5 333.5Z" fill="#26ff00"/>
<path d="M59.2 348.5L110.9 348.5 110.7 344.8 111.1 336.5 110.8 332 109.3 325.2 108.6 317 105.4 305.8 103.8 296.8 100.9 289.2 95.5 280.2 92.2 276.2 89.3 274.2 87.7 273.9 85.5 274 82.5 275.7 77.2 281.9 73.5 288 69.5 292.2 67.6 296 65.3 302.8 61.3 321.5 59.6 333.5Z" fill="#40ff00"/>
<path d="M60.7 348.5L109.8 348.5 110 337.2 109.7 332 108.3 325.2 107.7 317.8 104.4 305.8 103.1 298.2 100 290 94.8 281 91.9 277.2 89.2 275.3 87.7 274.8 85.5 274.9 82.5 276.6 77.3 282.5 73.6 288.5 69.7 292.8 68 296 65.5 304.2 62.5 320 61.1 329 60.6 336.5Z" fill="#59ff00"/>
<path d="M62.2 348.5L108.8 348.5 108.9 335 107.4 325.2 107.1 320 103.5 305.8 102.3 299 99.3 290.8 94.1 281.8 91.5 278.1 88.5 276.1 86.2 275.7 84.7 276.1 81.7 278.3 77.9 282.5 74.2 288.5 70.1 293 68.3 296.8 66.1 304.2 62.1 329 61.8 337.2Z" fill="#73ff00"/>
<path d="M63.7 348.5L107.8 348.5 108 335.8 106.3 320.8 103.1 308 101.5 299.8 98.2 290.8 93 281.8 90.7 278.8 87.7 276.9 85.5 276.9 84 277.4 79.5 281.5 77.4 284 74.8 288.5 70.1 293.8 68.8 296.8 66.7 304.2 65.8 312.5 64 321.5 63.2 328.2 62.9 337.2 63.4 348.5Z" fill="#8cff00"/>
<path d="M65.2 348.5L106.9 348.5 107 337.2 105.7 322.2 102.5 309.5 100.8 300.5 97.5 291.5 92.4 282.5 90.1 279.5 87.7 278 85.5 277.9 84 278.4 80.2 281.5 78 284 74.8 289.2 70.7 293.8 69.3 296.8 67.3 304.2 66.5 313.2 64.7 322.2 64.2 326.8 64.1 338.8 64.7 348.5Z" fill="#a6ff00"/>
<path d="M66.7 348.5L105.9 348.5 106.2 341.8 105.1 323.8 101.8 311 100.1 301.2 96.8 292.2 91.8 283.2 89.4 280.2 87 279 85.5 278.9 84 279.4 79.5 283.1 78 284.9 75.5 289.2 70.7 294.5 69.7 297.1 68 304.2 67.3 314 65.1 326 65.5 342.5 66 348.5Z" fill="#bfff00"/>
<path d="M67.5 348.5L104.9 348.5 105.4 344 104.5 324.5 101.1 312.5 99.4 302 96.5 293.8 91.5 284.4 89.2 281.4 87 280.1 85.5 280 84 280.4 80.2 283.2 78.7 284.8 75.6 290 71.4 294.5 70.4 296.8 68.5 305 68.2 314.8 65.9 325.8 66.7 341.8Z" fill="#d9ff00"/>
<path d="M69 348.5L103.7 348.5 104.2 347 104.6 344.8 103.8 335 103.8 324.5 100.1 313.2 98.6 302.8 95.2 293.2 90 283.8 88.5 282.2 87 281.3 85.5 281.1 84 281.4 80.2 284.1 76.4 290 72 294.7 70.8 297.5 69.2 305 69.3 314.8 67.2 323 66.8 326 68.1 344Z" fill="#f2ff00"/>
<path d="M70.5 348.5L102.4 348.5 103.4 345.5 102.6 335 102.9 324.5 99.1 314 97.9 303.5 95.1 295.2 90.2 286.2 88.5 283.6 86.2 282.3 83.9 282.5 80.6 284.8 76.8 290.8 72.4 295.2 71.3 298.2 70 305 70.5 314.8 68.2 323 67.8 326 69.3 344Z" fill="#fff200"/>
<path d="M72 348.4L100.7 348.5 101.9 345.5 102.1 343.2 101.3 335 102.1 325.2 101.3 322.2 98.6 317 97.6 314 97 304.2 93.7 295.2 88.5 285.5 86.2 283.6 84 283.7 81 285.7 77.3 291.5 73.4 295.2 72 299 71 305 71.9 311.8 71.9 314.8 71.2 317.8 69.1 323.8 68.8 326 70.1 334.2 70.7 344Z" fill="#ffd900"/>
<path d="M74.2 348.5L98.3 348.5 99.6 346.2 100.2 344 99.8 334.2 101 326.8 100.9 324.5 97.2 317.8 96.1 314.8 95.7 311.8 96 305.8 95.5 303.5 92.7 296.8 88.3 287.8 87 285.7 85.5 284.9 83.2 285.4 81.7 286.6 78.1 292.2 74.1 296 73.4 297.5 72.7 300.3 72.1 305 73.4 311.8 73.5 314.8 70 325.2 71.5 333.5 72.3 344 72.9 346.2Z" fill="#ffbf00"/>
<path d="M77.2 348.4L94.5 348.5 97 345.5 97.9 342.5 97.9 333.5 99.6 325.2 99 323.6 95.4 318.5 94.1 315.5 93.7 312.5 94.1 306.5 93.8 304.2 86.9 289.2 85.9 287.8 84.7 287.1 83.2 287.7 82.5 288.4 79.7 293 75.3 296.8 74.3 299 73.9 301.2 73.6 305 75.1 311.8 75.3 314.8 72 323.8 71.7 326 73.1 332.8 74.1 344 74.9 345.8Z" fill="#ffa600"/>
<path d="M82.5 347.9L85.5 348.1 89.2 347.2 92.3 345.5 94.3 343.2 95.3 340.2 95.4 332 96.4 326.8 95.8 324.5 93.7 320.9 91.5 315.5 91.1 308.8 89.3 304.2 88.8 299.8 87 296.6 85.5 295.2 84 294.6 82.5 294.9 78 297.2 76.8 298.2 76.2 299.8 76 302 76.7 305 76.5 308.8 77.1 314.8 74.6 322.2 74 326 74.9 332.8 75.2 338.8 76.1 342.5 77.2 344.2 79.3 346.2Z" fill="#ff8c00"/>
<path d="M81.7 344.2L83.2 344.6 85.5 344.5 87.7 343.8 90 342.5 91.8 340.2 92.6 336.5 92 328.2 90.6 324.5 90.8 320.8 88.8 314.8 88.7 310.2 87.3 305.8 86.7 302 85.4 299.8 84 298.8 82.5 298.6 80.2 299.4 78.9 301.2 79 305 78.3 309.5 78.7 314.8 76.8 320.8 76 327.5 76.7 336.5 77.4 339.5 79.3 342.5Z" fill="#ff7300"/>
<path d="M82.5 341.3L85.5 341.4 87.9 340.2 89.6 338 90.3 335 90.1 329 89.1 325.2 88.9 320.8 87 314.8 86.9 311 85.6 305 84.7 302.8 83.2 301.9 81.7 302.2 80.6 304.2 79.8 314.8 78.1 321.5 77.5 328.2 78.1 335 78.7 337.4 80.2 339.8Z" fill="#ff5900"/>
<path d="M82.5 338.4L84.7 338.7 87.2 337.2 88.4 335 88.8 331.2 87.7 322.2 85.5 312.6 84.7 310.9 83.2 309.2 82.5 310 81.1 313.2 79.3 322.2 78.7 328.2 79.6 335 81 337.3Z" fill="#ff4000"/>
<path d="M83.2 336L84.7 335.9 86.2 335 87.1 333.5 87.6 331.2 87 324.8 84.9 318.5 84.6 314.8 84 313.7 83.2 313.5 82.1 314.8 82 318.5 80.1 324.5 79.9 329 80 332 80.5 333.5 81.7 335.2Z" fill="#ff2600"/>
<path d="M82.5 332.9L83.2 333.1 84.7 332.7 85.5 331.9 85.8 330.5 85.5 324.6 84.7 323.2 83.2 322.5 81.9 323.8 81.3 325.2 81.4 331.2 81.7 332.3Z" fill="#ff0d00"/>
<path d="M140.2 241.8L133.1 238.2 126 235.7 120.6 234.5 112.5 233.3 110.2 233.4 107.3 234.5 103.5 237.2 93.7 244.8 89.2 248.8 78.7 260.5 66.8 278 60.1 284.8 45.2 304.2 42.4 310.2 38.2 323 35.5 329.8 30.2 348.5" fill="none" stroke="#333" stroke-opacity="0.5" stroke-width="0.5"/>
<path d="M137 348.5L135.8 344 135.4 339.5 135.7 335 137.2 326.8 137.2 323.8 132.7 308 129.8 294.5 127.6 290 123.9 284.8 122.9 277.2 122.1 274.2 120.7 271.9 115.6 266 111.8 257.8 110.2 255.9 108 254.4 105.7 253.5 103.5 253.3 99.7 254 95.2 255.9 87.7 260.5 81.7 265.1 78.7 268.3 73.5 275.8 69.3 283.2 66 285.5 63.4 288.5 58.4 297.5 55.4 304.2 52 309.5 50.3 313.2 40.5 348.5" fill="none" stroke="#333" stroke-opacity="0.5" stroke-width="0.5" stroke-dasharray="3 1 1 1"/>
<path d="M121.3 348.5L120.7 341.8 121 329 120.8 324.5 116.3 306.5 114.7 296 113.8 293 108.7 282.5 104.6 276.5 96.7 268.3 94.5 267 91.5 266.5 86.2 267.7 84 268.8 81.6 270.5 74.9 279.2 71.5 285.5 67.5 289.3 65.4 292.2 61.9 299.8 60 305.8 55.1 317.8 49.1 343.2 48.3 348.5" fill="none" stroke="#333" stroke-opacity="0.5" stroke-width="0.5"/>
<path d="M113.3 348.5L113 344.8 113.4 335.8 112.9 330.5 110.8 316.2 107.5 305 106.7 298.2 105.8 294.5 102.4 287 96.5 278 92.2 273.5 90 272.4 87.7 272 84.7 272.6 81.7 274.7 76.5 281.4 73.1 287 68.4 292.2 66.2 296.8 64.3 302 59.4 321.5 57.5 332.8 56 348.5" fill="none" stroke="#333" stroke-opacity="0.5" stroke-width="0.5" stroke-dasharray="3 1 1 1"/>
<path d="M107.8 348.5L108 335.8 106.3 320.8 103.1 308 101.3 299 98.2 290.8 92.6 281 90.7 278.8 89.2 277.6 86.2 276.8 83.2 277.9 78.7 282.3 74.8 288.5 70.1 293.8 68.5 297.5 66.7 304.2 65.8 312.5 64 321.5 63.2 328.2 62.9 335.8 63.4 348.5" fill="none" stroke="#333" stroke-opacity="0.5" stroke-width="0.5"/>
<path d="M102.4 348.5L103.5 344.8 102.6 335 103 325.2 102.3 322.2 99.1 314 97.9 303.5 95.1 295.2 90 285.7 87.7 283 85.5 282.2 83.2 282.8 80.2 285.2 76.8 290.8 72.4 295.2 71.2 298.7 70 305 70.5 314.8 68.2 323 67.8 326 69.3 344 70.3 348.5" fill="none" stroke="#333" stroke-opacity="0.5" stroke-width="0.5" stroke-dasharray="3 1 1 1"/>
<path d="M81.7 344.2L84.7 344.6 89.2 343 91.5 340.9 92.6 337.2 92 328.2 90.7 325.2 90.8 320.8 88.8 314.8 88.6 309.5 87.3 305.8 86.2 300.8 84.7 299.2 83.2 298.7 81.7 298.7 80.2 299.4 78.9 301.2 79 305 78.3 309.5 78.7 314.8 76.8 320.8 76 327.5 77.2 338.9 78.7 341.8 81.3 344" fill="none" stroke="#333" stroke-opacity="0.5" stroke-width="0.5"/>
</g>
<clipPath id="clipe"><path d="M179.9 346.1L304.3 346.1A351.2 351.2 0 0 0 281.1 226.6Z"/></clipPath>
<g clip-path="url(#clipe)">
<path d="M179.9 346.1L304.3 346.1A351.2 351.2 0 0 0 281.1 226.6Z" fill="#000dff"/>
<path d="M255.2 347.4L260.1 348.1 306.9 348.1 306.9 223.6 284.2 223.6 277.6 225.1 262.6 225.4 255.2 226.7 247.7 229.1 236 234.9 197.6 258.1 186.2 266.4 177.9 274.1 177.9 340.2 181.7 341.9 185.4 342.6 201.2 342.6 229.7 345.5 245.4 346.3Z" fill="#0026ff"/>
<path d="M290.4 347.9L306.9 348.1 306.9 223.6 287.4 223.6 282.9 225.3 279.1 226.1 266.4 226.3 259.6 227.1 253.7 228.5 247.7 230.7 237 236.4 196.7 262.1 190.9 266.4 185.7 270.9 181.3 275.4 177.9 279.4 177.9 329.5 180.9 331.6 186.2 333.8 192.2 335 211.7 337.2 224.4 337.3 246.9 339.2 261.9 341.6 273.9 342.8 285.1 345.2 288.1 346.4Z" fill="#0040ff"/>
<path d="M296.4 347.6L296.8 348.1 306.9 348.1 306.9 223.6 290.3 223.6 283.6 226.2 279.9 227.2 266.4 227.5 258.9 228.5 252.9 230.1 247.1 232.6 238 237.9 221.4 249.2 202 261.9 195.2 266.8 189.4 271.6 185 276.1 180.8 281.4 177.9 286.1 177.9 319.4 181.6 323.4 185.4 325.9 192.2 328.5 206.4 331.4 212.4 331.7 222.9 331.1 246.2 333 264.1 336 276.9 337.4 283.6 339.2 289.6 341.6 292.7 343.6Z" fill="#0059ff"/>
<path d="M300.9 347.5L301.4 348.1 306.9 348.1 306.9 223.6 293.3 223.6 281.1 228.1 277.6 228.5 267.9 228.5 261.9 229.1 255.2 230.8 248.4 233.6 240 238.6 222.9 251.1 204.7 263.4 197.4 268.7 192.4 273.1 188 277.6 184.6 282.1 181.5 287.4 179.4 292.6 178.2 297.9 177.9 303.1 178.5 307.6 180.1 312.1 182.4 315.9 186.1 319.6 189.9 322 193.7 323.6 201.2 326 207.2 327.3 212.4 327.4 221.4 326.4 234.2 327.7 245.4 328 270.9 331.4 276.9 332.5 284.4 334.8 291.1 338.2 296.2 342.1Z" fill="#0073ff"/>
<path d="M305.4 347.6L305.8 348.1 306.9 348.1 306.9 223.6 296.5 223.6 283.6 228.4 279.9 229.4 268.6 229.5 261.9 230.3 255.2 232.1 249.2 234.8 240.9 240.1 224.4 253 199.5 270.9 195.2 274.8 191.1 279.1 188.3 282.9 185.6 287.4 183.5 292.6 182.6 297.1 182.4 301.6 183.1 306.1 184.5 309.9 186.9 313.6 189.9 316.6 194.6 319.6 201.9 322.6 207.9 323.9 212.4 324 221.4 323.2 234.9 324.2 245.4 324.4 269.4 327 279.1 329.1 285.9 331.3 291.1 334.3 298.2 339.9Z" fill="#008cff"/>
<path d="M306.9 344.5L306.9 223.6 300.1 223.6 280.6 230.2 268.6 230.5 261.9 231.4 255.9 233.2 250.7 235.6 242.8 240.9 225.2 255.4 201.6 273.1 194.2 280.6 191.5 284.4 189.4 288.1 187.6 292.6 186.8 297.1 186.8 301.6 187.8 306.1 189.6 309.9 192 312.9 195.5 315.9 199.7 318.3 204.2 320 208.7 321 222.9 320.6 246.9 321.7 268.6 323.6 278 325.6 285.9 327.8 290.4 330.1 300 337.6Z" fill="#00a6ff"/>
<path d="M306.9 340.2L306.9 223.6 303.9 223.7 281.4 231 268.6 231.5 261.9 232.6 256.6 234.3 251.4 236.9 244.6 241.6 226.7 257.3 203.7 275.4 197.3 282.1 193.1 288.9 191.5 293.4 190.8 297.1 191 301.6 192 305.4 194 309.1 196.6 312.1 199.7 314.6 203.3 316.6 207.2 317.9 210.9 318.4 224.4 318.2 258.3 319.6 276.1 322.4 286 324.9 290.4 326.8 300.9 334.8Z" fill="#00bfff"/>
<path d="M306.9 336.5L306.9 224.1 282.1 231.6 269.4 232.5 262.6 233.6 257.4 235.3 252.5 237.9 245.4 243.1 228.2 259.2 205.9 277.6 199.9 284.4 196.5 290.4 195.3 294.1 194.8 297.9 195.1 301.6 196 304.6 197.5 307.6 200 310.6 202.8 312.9 206.4 314.8 209.4 315.6 213.2 316 225.2 315.9 236.4 316.5 258.9 317 276.1 319.8 286.6 322.6 291.1 324.5 295.2 327.1Z" fill="#00d9ff"/>
<path d="M306.9 333.2L306.9 225.4 282.1 232.3 270.1 233.4 263.4 234.5 258.1 236.3 253.9 238.6 247 243.9 229.7 261.1 208.7 279.5 203.7 285.1 200.2 291.1 198.8 297.1 198.8 300.1 199.5 303.1 200.9 306.1 202.6 308.4 205.1 310.6 207.9 312.2 210.9 313.1 215.4 313.7 225.2 313.7 237.9 314.4 258.9 314.6 276.1 317.4 288.1 320.8 292.4 322.6 296.4 325.1Z" fill="#00f2ff"/>
<path d="M306.9 330.2L306.9 226.6 282.1 233 264.9 235.3 259.6 237 255.3 239.4 251.4 242.1 247.8 245.4 231.2 263 211.5 281.4 206.5 287.4 203.8 292.6 202.7 297.9 203 300.9 203.7 303.1 204.8 305.4 206.7 307.6 210.9 310.2 216.2 311.3 235.7 312.3 259.6 312.4 276.1 314.9 288.9 318.9 292.6 320.4 297.1 323Z" fill="#00fff2"/>
<path d="M306.9 327.3L306.9 227.9 282.1 233.6 265.6 236.2 260.8 237.9 256.6 240.1 252.9 242.8 249.4 246.1 233.4 264 214.3 283.6 210.1 288.9 207.8 293.4 206.9 297.9 207.6 302.4 210.2 306 213.9 308.1 217.7 308.8 236.4 310.4 251.4 310 262.1 310.6 275.4 312.3 279.9 313.5 292.6 318.1 297.1 320.6Z" fill="#00ffd9"/>
<path d="M306.1 324.1L306.9 324.6 306.9 229.1 266.7 237.1 261.9 238.7 257.4 241.2 254 243.9 250.2 247.6 238.7 261.4 218.5 284.4 214 290.4 212 294.9 211.4 298.6 212.1 301.6 213.5 303.9 216.2 305.4 235.7 308.4 241.7 308.6 251.4 308.2 269.4 309.2 276.9 310.4 282.1 311.8 291.9 315.3 297.9 318.6Z" fill="#00ffbf"/>
<path d="M306.9 321.9L306.9 230.4 278.4 235.5 267.9 238 262.6 239.7 258.1 242.3 254.6 245.4 251 249.1 229.3 276.1 220.2 288.9 217.6 294.1 217 297.1 217.8 300.1 220.4 302.4 224.4 304 231.2 305.7 236.4 306.6 242.4 306.8 249.9 306.5 260.4 307.3 270.1 307.5 282.9 309.7 288.1 311.2 291.9 312.8 298.6 316.6Z" fill="#00ffa6"/>
<path d="M306.9 319.3L306.9 231.6 279.1 236 266.4 239.5 261.9 241.5 256.8 245.4 252.5 249.9 239.2 267.1 231 278.4 227.1 285.1 223.3 292.6 222.8 295.6 223.6 298.6 225.6 300.9 228.2 302.4 231.9 303.7 236.4 304.7 241.7 305.2 249.9 305 260.4 305.9 270.1 306 286.6 308.4 293.4 311.1Z" fill="#00ff8c"/>
<path d="M306.9 316.8L306.9 232.8 292.6 234.9 283.6 235.7 266.4 240.8 263 242.4 258.1 246.2 253.7 251 241 267.9 234.1 278.4 231.7 282.9 227.7 292.6 227.3 295.6 227.9 297.9 229.7 300 231.9 301.3 235.1 302.4 240.2 303.4 261.1 304.7 270.1 304.8 288.1 306.9 293.8 309.1Z" fill="#00ff73"/>
<path d="M306.9 314.4L306.9 234.1 292.6 235.9 283.6 236.4 264.4 243.1 261.5 245.4 255.9 250.8 249.6 258.9 241.6 270.1 235.7 280.6 233.9 285.1 231.2 294.1 231.2 296.4 231.9 297.9 235.7 300.1 243.2 302.2 260.4 303.6 271.6 303.8 288.9 305.5 294.8 307.6Z" fill="#00ff59"/>
<path d="M306.9 312.2L306.9 235.3 292.6 237 283.6 237.3 280 238.6 274.6 241.2 265.6 244.1 256.8 252.1 250.3 260.4 243.1 270.9 236.6 285.1 235 292.6 235 294.9 235.6 296.4 237 297.9 239.5 299.4 245.4 301.1 257.4 302.3 286.6 304 291.1 304.6 295.6 306.2Z" fill="#00ff40"/>
<path d="M306.9 310.2L306.9 236.6 291.9 238.1 283.6 238.5 276.1 242.2 267.1 245.4 263.4 248.9 259.6 251.4 258.1 253 250.9 261.9 244.1 272.4 238.4 286.6 237.9 292.6 238.7 295.6 239.9 297.1 242.1 298.6 244.7 299.6 247.7 300.2 256.6 301.3 288.1 303 291.9 303.5 296.4 305Z" fill="#00ff26"/>
<path d="M306.1 307.9L306.9 308.3 306.9 237.8 284.4 240.1 277.6 243.4 268.7 246.9 265 250.6 261.1 252.5 258.9 254.4 251.9 262.6 245.2 273.1 240.2 286.6 240 291.9 240.9 294.9 242 296.4 243.9 297.8 248.4 299.2 254.4 300.1 264.2 300.9 291.1 302.2 296.4 303.6Z" fill="#00ff0d"/>
<path d="M306.1 306.2L306.9 306.5 306.9 239.1 294.9 240.1 285.9 241.8 271.6 247.2 269.4 248.6 265.8 252.1 262.6 253.4 260.4 254.9 252.7 263.4 245.1 276.1 242.1 285.1 241.5 288.1 241.9 292.6 243.7 295.6 245.4 296.9 247.6 297.9 254.4 299.2 264.9 300.1 292.6 301.5 297.9 302.8Z" fill="#0dff00"/>
<path d="M306.1 304.6L306.9 304.9 306.9 240.4 297.9 241 291.1 242 284.2 244.6 273.9 247.6 270.9 249.3 266.6 252.9 261.9 255.3 253.5 264.1 250.1 270.1 246.6 275.4 243.4 285.1 242.9 288.1 243.2 291.1 244 293.4 246 295.6 249.9 297.4 255.9 298.5 281.4 300.3 289.6 300.2 292.6 300.5 297.9 301.6Z" fill="#26ff00"/>
<path d="M306.1 303.1L306.9 303.4 306.9 241.7 298.6 242.1 292.6 243 284.4 245.8 276.9 247.8 273.1 249.4 267.2 253.6 262.6 256.1 255.4 263.4 253.1 266.4 247 276.9 244.5 285.1 244.3 289.6 244.9 291.9 245.7 293.4 247.2 294.9 249.2 296 254.4 297.4 264.9 298.6 274.6 298.9 282.1 299.6 291.9 299.6 297.9 300.5Z" fill="#40ff00"/>
<path d="M306.1 301.7L306.9 301.9 306.9 243 298.6 243.3 292.6 244.2 285.1 246.7 277.6 248.6 273.1 250.7 262.6 257.3 255.9 264.2 253.7 267.1 247.4 278.4 245.6 285.1 245.6 289.6 246.4 291.9 247.5 293.4 251 295.6 255.2 296.7 264.9 297.8 274.6 298.1 282.1 298.9 290.4 298.7 296.4 299.3Z" fill="#59ff00"/>
<path d="M304.6 300.1L306.9 300.6 306.9 244.4 299.4 244.5 293.4 245.3 279.1 249.1 273.9 251.5 263.4 257.8 256.5 264.9 254.2 267.9 248 279.1 246.6 285.1 246.9 289.6 248.5 292.6 252.2 295 255.9 296 264.1 297 274.6 297.4 282.9 298.3 291.2 298.1 297.9 298.7Z" fill="#73ff00"/>
<path d="M306.9 299.4L306.9 245.8 300.1 245.7 294.9 246.2 279.9 249.8 276.1 251.4 265.6 257.4 263.4 258.9 255.7 267.1 248.7 279.9 247.7 285.1 248.1 289.6 250.2 292.6 253.7 294.5 257.4 295.4 264.9 296.4 274.6 296.7 282.9 297.6 290.4 297.4 297.9 297.8Z" fill="#8cff00"/>
<path d="M304.6 297.9L306.9 298.1 306.9 247.2 300.1 247 294.9 247.3 280.6 250.6 277 252.1 266 258.1 263.9 259.6 255.9 268.3 249.7 279.9 248.7 285.1 248.8 287.4 249.4 289.6 251.4 292.2 255.2 294.1 265.6 295.7 274.6 296.1 282.9 297 297.9 297.1Z" fill="#a6ff00"/>
<path d="M283.6 296.4L297.9 296.4 306.9 297 306.9 248.7 300.9 248.3 295.6 248.4 284.5 250.6 279.3 252.1 267.1 258.5 264.4 260.4 256.8 268.6 251.1 279.1 250 282.9 250 287.4 251.2 290.4 253.9 292.6 257.4 293.8 262.6 294.7 274.6 295.4Z" fill="#bfff00"/>
<path d="M282.1 295.6L306.9 295.8 306.9 250.2 300.1 249.6 294.1 249.7 288.1 250.7 280.3 252.9 265.9 260.4 258.7 267.9 256.4 270.9 252.2 279.4 251.2 282.1 250.9 285.1 251.2 287.4 251.7 288.9 252.9 290.6 255.9 292.4 260.4 293.5 274.6 294.7Z" fill="#d9ff00"/>
<path d="M281.4 294.9L294.1 295.2 306.9 294.6 306.9 251.8 300.1 250.9 293.4 251 287.4 251.9 281.6 253.6 270.6 258.9 266.7 261.1 260.1 267.9 257.7 270.9 253.3 279.9 252.3 282.9 252.5 287.4 253.1 288.9 254.3 290.4 257.2 291.9 261.1 292.9 274.6 293.9Z" fill="#f2ff00"/>
<path d="M280.7 294.1L285.9 294.6 294.1 294.6 306.9 293.4 306.9 253.5 300.9 252.5 294.9 252.1 289.6 252.5 284.4 253.9 276.9 257.6 271.6 259.6 267.9 261.8 261.1 268.4 259.2 270.9 254.5 280.6 253.8 282.9 253.7 286.6 255.2 289.4 258.1 291.1 261.9 292.1 274.6 293.2Z" fill="#fff200"/>
<path d="M280.6 293.4L285.9 294 294.1 294 300.9 293.4 306.9 292.2 306.9 255.4 300.9 254 295.6 253.5 290.4 253.6 285.9 254.6 282.9 255.9 278.4 258.8 270.6 261.9 267.1 264.5 261.1 270.6 255.4 282.9 255.2 285.9 256.1 288.1 258.1 289.8 261.9 291.2 273.9 292.2Z" fill="#ffd900"/>
<path d="M285.2 293.4L291.1 293.5 297.1 293.1 306.9 290.9 306.9 257.4 301.7 255.8 295.6 254.9 291.1 254.9 286.6 255.8 283.3 257.4 279.1 260.5 271.2 264.1 265.9 268.6 263.2 271.6 257.4 283.5 257.3 285.9 258.6 288.1 260.9 289.6 262.6 290.1 273.9 291.2Z" fill="#ffbf00"/>
<path d="M284.4 292.6L290.4 292.9 297.1 292.4 302.5 291.1 306.9 289.4 306.9 259.7 300.9 257.5 294.9 256.3 289.6 256.5 285.1 258 277.2 264.1 274.4 267.1 273 270.9 273.3 276.1 272.5 278.4 262.6 281.8 261.1 282.9 260.4 284.4 260.7 286.6 262.6 288.2 269.5 289.6 273.9 290Z" fill="#ffa600"/>
<path d="M284.4 291.9L290.4 292.3 297.1 291.7 301.5 290.4 306.9 287.6 306.9 262.4 302.9 260.4 298.6 258.8 294.1 257.9 290.4 257.9 287.4 258.6 285.4 259.6 279.8 264.9 278.8 266.4 278.1 268.6 277.8 279.1 275.4 282 270.7 285.1 270.2 285.9 270.6 286.6 277.1 289.6Z" fill="#ff8c00"/>
<path d="M285.1 291.2L290.4 291.7 297.1 290.9 301.9 288.9 306.9 285.3 306.9 265.9 306.6 265.6 303.4 263.4 299.4 261.3 295.6 260.1 292.6 259.6 289.6 259.8 286.6 260.8 284.4 262.6 282.3 264.9 280.8 267.1 280.2 269.4 280.1 272.4 280.7 277.6 280.5 279.9 277.5 284.4 277 285.9 277.4 287.4 279 288.9 282 290.4Z" fill="#ff7300"/>
<path d="M285.9 290.5L291.1 290.9 298 289.6 300.6 288.1 303.4 285.9 306.9 281.4 306.9 271.5 304.8 268.6 302.4 266.4 299.3 264.1 295.6 262.3 291.9 261.6 288.1 262.3 284.7 264.9 282.4 268.6 282 270.9 282.7 276.9 282.6 279.1 280.1 285.1 280.1 286.6 281.9 288.9Z" fill="#ff5900"/>
<path d="M287.4 289.8L291.1 290.1 295.6 289.2 297.9 288.2 299.9 286.6 301.9 284.4 303.8 279.9 304 277.6 303.7 275.4 301.9 271.6 296.4 265.8 294.9 264.8 292.6 264 289.6 264.1 287.4 265.2 285.1 267.7 284.3 270.1 284.9 278.4 282.8 284.4 282.6 286.6 284.4 288.7Z" fill="#ff4000"/>
<path d="M288.9 288.9L291.9 288.8 296 287.4 298.2 285.1 299.2 282.1 298.8 278.4 297.2 273.9 294.1 268.2 291.9 266.7 289.6 266.9 288.2 267.9 287.2 269.4 286.9 270.9 288 278.4 285.6 283.6 285.1 285.9 285.9 287.4Z" fill="#ff2600"/>
<path d="M289.6 286.2L291.1 286.6 292.8 285.9 293.5 285.1 293.4 283.6 291.9 283.1 290.3 283.6 289.1 285.1Z" fill="#ff0d00"/>
<path d="M296.5 223.6L280.6 229.3 266.4 229.7 258.1 231.2 250.6 234.1 243 238.6 223.7 253.5 202.4 268.6 197.4 272.7 193.1 276.9 188.3 282.9 184.6 289.6 182.7 296.4 182.4 302.4 183.1 306.1 184.1 309.1 187.5 314.4 189.9 316.6 192.9 318.7 199.9 321.9 204.9 323.4 209.4 324 221.4 323.2 234.9 324.2 246.2 324.5 269.4 327 277.6 328.7 285.1 331 291.1 334.3 298.6 340.3 305.8 348.1" fill="none" stroke="#333" stroke-opacity="0.5" stroke-width="0.5"/>
<path d="M306.9 226.6L282.1 233 270.1 234.4 264.2 235.5 258.9 237.4 254.1 240.1 247.8 245.4 231.9 262.2 209.4 283.6 206.5 287.4 204.4 291.1 203.1 294.9 202.7 297.9 203.2 301.6 204.9 305.5 207.9 308.6 211.7 310.4 216.2 311.3 236.4 312.3 258.9 312.3 264.2 312.9 275.4 314.7 288.9 318.9 292.6 320.4 297.1 323 306.9 330.2" fill="none" stroke="#333" stroke-opacity="0.5" stroke-width="0.5" stroke-dasharray="3 1 1 1"/>
<path d="M306.9 232.8L292.6 234.9 284.4 235.6 281 236.4 265.6 241.1 260.9 243.9 256.7 247.6 254 250.6 239.9 269.4 232.4 281.4 228 291.9 227.3 295.6 227.9 297.9 229.8 300.1 232.7 301.6 238.5 303.1 260.4 304.7 270.9 304.9 285.1 306.4 288.9 307.1 294.1 309.3 306.9 316.8" fill="none" stroke="#333" stroke-opacity="0.5" stroke-width="0.5"/>
<path d="M306.9 239.1L295.3 240.1 286.6 241.6 271.6 247.2 269.4 248.6 265.8 252.1 261.2 254.3 252.7 263.4 249.2 269.7 246.2 274 242.1 285.1 241.5 289.6 242.2 293.4 243.7 295.6 245.8 297.1 249.2 298.3 254.4 299.2 264.1 300.1 291.9 301.3 297.1 302.6 306.9 306.5" fill="none" stroke="#333" stroke-opacity="0.5" stroke-width="0.5" stroke-dasharray="3 1 1 1"/>
<path d="M306.9 245.8L300.1 245.7 294.9 246.2 279.9 249.8 275.4 251.8 264.4 258.1 256.6 266 254.4 269.1 249 279.1 248 282.9 247.6 286.6 248.1 289.6 249.9 292.4 252.6 294.1 255.9 295.1 264.9 296.4 274.6 296.7 282.1 297.6 290.4 297.4 297.9 297.8 306.9 299.4" fill="none" stroke="#333" stroke-opacity="0.5" stroke-width="0.5"/>
<path d="M306.9 253.5L297.1 252.2 288.9 252.7 283.1 254.4 276.9 257.6 270.1 260.4 266.4 263.1 259.6 270.2 254.5 280.6 253.6 285.1 253.9 287.4 255.4 289.6 258.1 291.1 261.9 292.1 273.9 293.1 285.9 294.6 296.4 294.5 306.9 293.4" fill="none" stroke="#333" stroke-opacity="0.5" stroke-width="0.5" stroke-dasharray="3 1 1 1"/>
<path d="M306.9 265.9L301.6 262.4 295.6 260.1 290.4 259.7 288.1 260.2 285.9 261.3 282.3 264.9 280.5 267.9 280.1 271.6 280.6 279.1 280.2 280.6 277.5 284.4 277 285.9 277.4 287.4 278.1 288.1 282 290.4 285.1 291.2 290.4 291.7 296 291.1 298.8 290.4 303.2 288.1 306.9 285.3" fill="none" stroke="#333" stroke-opacity="0.5" stroke-width="0.5"/>
</g>
<clipPath id="clipf"><path d="M341.4 344.6L465.8 344.6A351.2 351.2 0 0 0 442.6 225.1Z"/></clipPath>
<g clip-path="url(#clipf)">
<path d="M341.4 344.6L465.8 344.6A351.2 351.2 0 0 0 442.6 225.1Z" fill="#000dff"/>
<path d="M340.1 346.6L468.4 346.6 468.4 281.7 465.8 274.6 460.9 263.5 456.4 252.1 453.6 246.1 449.5 238.6 446.6 231.1 444.7 228.1 439.5 222.1 339.4 222.1 339.4 346.6Z" fill="#0026ff"/>
<path d="M340.1 346.6L468.4 346.6 468.4 286.3 464.4 274.6 459.7 264.1 454.1 249.9 448.2 238.6 445.9 231.9 443.6 228.2 438.1 222.1 339.4 222.1 339.4 346.6Z" fill="#0040ff"/>
<path d="M340.1 346.6L468.4 346.6 468.3 291.1 463.6 276.1 458.5 264.9 452.1 248.4 447.3 239.4 444.9 231.9 442.9 228.6 436.5 222.1 339.4 222.1 339.4 346.6Z" fill="#0059ff"/>
<path d="M340.1 346.6L468.4 346.6 468.4 297.9 466.3 288.9 462.6 276.9 457.1 264.9 450.8 248.4 446.6 240.5 443.5 231.1 441.9 228.9 434.7 222.1 339.4 222.1 339.4 346.6Z" fill="#0073ff"/>
<path d="M340.1 346.6L468.4 346.6 468.4 306.4 465.9 292.6 463.3 282.9 460.9 276.1 455.7 264.9 449.9 249.1 445.8 241.6 442.4 231.1 441.4 229.6 432.8 222.1 339.4 222.1 339.4 346.6Z" fill="#008cff"/>
<path d="M340.1 346.6L468.4 346.6 468.4 314.8 464.5 292.6 461.6 281.4 459.9 276.9 454.9 266.1 448.9 249.9 444.6 242.4 441.4 231.9 439.7 229.6 430.6 222.1 339.4 222.1 339.4 346.6Z" fill="#00a6ff"/>
<path d="M340.1 346.6L468.4 346.6 468.4 323.3 465.5 308.4 463.1 292.6 460.3 281.4 450.8 259.6 447.6 250.6 443.2 243.1 439.9 232.3 438.4 230.3 428.3 222.1 339.4 222.1 339.4 346.6Z" fill="#00bfff"/>
<path d="M340.1 346.6L468.4 346.6 468.4 333.9 464.4 311.4 461.7 291.9 459.1 281.4 449.1 259.6 445.9 251.5 441 243.1 437.7 232.6 435.6 230.4 425.7 222.1 339.4 222.1 339.4 346.6Z" fill="#00d9ff"/>
<path d="M340.1 346.6L468.4 346.6 468.4 344 466.4 334.6 463.4 315.9 460.3 291.9 458.1 282.1 444.4 253.7 438.7 244.6 435 233.4 433.1 231.1 423 222.1 339.4 222.1 339.4 346.6Z" fill="#00f2ff"/>
<path d="M340.1 346.6L466.6 346.6 464.1 333.1 461.8 316.6 459.1 292.6 457.5 283.6 448.9 266.6 442.9 256.2 436.1 246.9 434.8 243.9 431.9 234.1 428.9 230.4 420.2 222.1 339.4 222.1 339.4 346.6Z" fill="#00fff2"/>
<path d="M340.1 346.6L464.2 346.6 463.1 341.4 460.8 324.1 458 294.1 456.5 284.4 446.6 266.4 439.9 256.6 433.4 249.1 432.2 246.1 429.9 237.1 428.1 233.4 424.3 228.9 417.3 222.1 339.4 222.1 339.4 346.6Z" fill="#00ffd9"/>
<path d="M340.1 346.6L461.9 346.6 461 342.9 460.3 333.9 459 324.9 456.8 296.4 455.2 285.1 451.9 278.7 445.9 268.7 439 259.6 431.3 250.6 429.7 246.9 427.2 237.9 424.9 233.4 420.6 228.1 414.3 222.1 339.4 222.1 339.4 346.6Z" fill="#00ffbf"/>
<path d="M340.1 346.6L459.9 346.6 457.3 324.9 455 293.4 454.3 288.1 453.4 285.1 450.4 279.1 445.1 270.9 429.5 251.4 427.7 247.6 424.8 238.6 422.5 234.1 418.2 228.9 411.1 222.1 339.4 222.1 339.4 346.6Z" fill="#00ffa6"/>
<path d="M340.1 346.6L458.1 346.6 455.9 325.6 453.7 294.9 452.8 288.9 451.6 285.1 448.9 279.8 444.6 273.1 432.4 258.4 427.9 252.1 426 248.4 422.3 238.6 419.7 234.1 415.1 228.8 407.7 222.1 339.4 222.1 339.4 346.6Z" fill="#00ff8c"/>
<path d="M340.1 346.6L456.3 346.6 454.1 322.6 452.3 296.4 451.4 290.4 450 285.9 447.4 280.6 444 275.4 432.4 261.3 427.1 253.8 424.9 249.9 420.4 239.7 417.4 234.9 412 228.9 404 222.1 339.4 222.1 339.4 346.6Z" fill="#00ff73"/>
<path d="M340.1 346.6L454.5 346.6 450.8 297.1 449.9 291.1 448.1 285.9 445.9 281.4 442.5 276.1 431.9 263.4 428.6 258.8 424 251.4 418.9 241.1 415.8 236.4 409.5 229.6 400 222.1 339.4 222.1 339.4 346.6Z" fill="#00ff59"/>
<path d="M340.1 346.6L452.8 346.6 449.3 297.9 448.1 291.1 446.3 285.9 443.9 281.4 440.9 276.9 429.4 262.6 422.9 252.1 417.4 242.3 414.3 237.9 411 234.1 406.9 230.3 395.4 222.1 339.4 222.1 339.4 346.6Z" fill="#00ff40"/>
<path d="M340.1 346.6L451.1 346.6 449.1 312.9 447.8 298.6 446.4 291.1 444 285.1 438.2 276.1 428.6 264 417.4 245.6 412.9 239.4 409.1 235.4 403.9 231 397.9 226.9 389.9 222.1 339.4 222.1 339.4 346.6Z" fill="#00ff26"/>
<path d="M340.1 346.6L449.6 346.6 449.1 334.6 446.4 300.1 444.8 291.9 442 285.1 435.7 275.4 427.9 265.3 417.4 248.5 411.4 240.8 406.1 235.8 400.1 231.4 392.6 227 383.2 222.1 339.4 222.1 339.4 346.6Z" fill="#00ff0d"/>
<path d="M340.1 346.6L341.9 346.6 342.4 344 343.9 342.2 346.1 341.3 348.4 341 351.6 341.4 354.4 342.6 356 344.4 356.8 346.6 448.1 346.6 447.8 335.4 444.8 300.1 443 291.9 439.9 284.8 433.9 275.4 426.6 265.6 419.6 254 414.4 247 409.9 242.1 403.9 237.1 396.4 232.3 387.4 227.8 374.3 222.1 339.4 222.1 339.4 346.6ZM379.7 344.4L378.3 342.9 376.9 339.1 376.5 335.4 376.8 332.4 377.9 328.6 379.5 325.6 381.4 324 383.6 323.5 385.9 324.9 386.8 327.1 386.9 331.6 385.9 340.2 385.1 342.9 383.6 344.3 381.4 344.9Z" fill="#0dff00"/>
<path d="M391.9 346.6L446.7 346.6 446.5 336.9 444.4 310.3 442.8 297.9 440.6 290.3 438.8 286.6 433.1 276.9 425.7 266.4 418.9 255.1 411.4 246.3 407.6 242.9 403.1 239.5 397.1 236 389.6 232.4 362.4 222.1 339.4 222.1 339.4 329.6 342.4 328.5 346.1 327.8 358.9 327.6 361.9 327.2 364.1 326.4 367.9 323.8 373.8 317.4 381.4 310.5 382.9 309.3 384.4 308.8 385.9 309.7 388.9 314.1 391.1 318.7 392.6 323.5 393.1 327.1 393.1 332.4 392.5 340.6 391.3 346.6Z" fill="#26ff00"/>
<path d="M396.4 346.6L445.1 346.6 445.1 337.6 443 311.4 441.2 297.9 438.8 290.4 431.4 276.9 424.9 267.3 418.9 257.1 412.9 250.2 405.4 243.9 398.6 240 391.1 236.7 361.1 227.4 347.4 222.1 339.4 222.1 339.4 317.8 345.4 316.2 358.1 314.2 364.9 311.9 371.6 308.3 375.4 305.6 376.2 304.6 378.4 299.9 380.6 297.4 382.9 296.6 385.1 297 387.4 298.6 389.6 301.8 393.4 310.8 395.6 318.1 396.5 323.4 397.1 330.9Z" fill="#40ff00"/>
<path d="M400.9 346.6L443.6 346.6 443.8 338.4 441.5 311.4 439.6 297.9 438.5 294.1 436.9 290.4 433.5 284.4 430.2 277.6 424.1 268.3 418.8 258.9 413.6 253 406.9 247.6 400.1 243.8 392.6 240.9 384.4 238.7 366.4 235.3 357.4 233.1 348.4 230.2 339.4 226.3 339.4 304.8 353.6 299.9 358.9 297.8 363.4 294.9 370.7 288.9 374.6 286.7 377.6 285.9 380.6 285.7 383.6 286.1 386.7 287.4 389.6 290.3 391.9 294.6 396.4 306.5 398.1 312.1 399.4 319.3 400.4 328.6 400.6 346.6Z" fill="#59ff00"/>
<path d="M405.4 346.6L441.9 346.6 442 345.9 442.3 338.4 440.5 315.9 437.7 297.1 436.1 292.6 432.1 285.1 429.5 279.1 423 268.6 418.9 261.1 415.1 256.3 409.9 252 403.9 248.5 397.1 245.9 391.1 244.4 385.1 243.7 364.9 243.3 357.4 242.6 348.4 240.5 339.4 236.8 339.4 288.1 348.4 282.9 355.1 279.5 361.1 277.3 366.4 276.3 372.4 276.4 379.1 277.7 385.9 280.5 390.6 283.6 392.5 285.9 394.1 289.2 399.6 303.9 400.9 308.4 402.9 320.4 404 331.6 404.7 343.6 405.1 346.6Z" fill="#73ff00"/>
<path d="M409.9 346.5L440 346.6 440.7 342.1 440.5 336.1 438.5 312.1 436.3 297.9 434.6 293.4 427.9 279.1 422.6 270.5 418.1 261.9 414.4 257.4 411.4 255.1 407.6 252.8 403.9 251.2 399.4 249.8 391.1 248.8 387 249.1 382.9 249.9 377.6 252 374.5 254.4 372.6 257.4 372.3 258.9 372.6 261.1 374.2 264.1 376.8 267.1 392.6 280.8 394.9 283.7 397.1 288.1 402.6 302.4 404.3 308.4 408.2 337.6Z" fill="#8cff00"/>
<path d="M415.1 346.6L437.9 346.6 438.8 342.9 438.9 337.6 436.9 311.8 435.4 300.9 433.8 295.6 427.9 282.1 421.8 271.6 417.7 263.4 415.9 260.7 411.4 257 405.4 254.3 398.6 253.1 393 253.6 389.2 255.1 386.6 257.4 385.2 260.4 385.4 264.1 387.8 269.4 395.6 279.8 398.1 283.6 400.9 289.6 405.6 301.6 407.6 309.1 411.5 334.6Z" fill="#a6ff00"/>
<path d="M420.4 346.1L420.7 346.6 435.2 346.6 436.3 344.4 436.9 339.9 436.2 325.6 434.8 306.1 434.1 302.4 432.7 297.9 427 283.6 421 273.1 415.9 262.6 412.9 259.8 408.4 257.7 403.1 256.7 398.6 257.1 395.6 258.3 393.4 260.4 392.2 263.4 392.4 267.1 394.5 272.4 402.6 286.6 409.4 303.1 410.6 307.6 412.3 319.6 414.9 333.1 416.6 338.3Z" fill="#bfff00"/>
<path d="M428.6 345.9L430.9 345.4 432.4 344.3 433.7 342.1 434.1 339.9 434.1 324.9 433.4 315.9 433.1 306.1 432.4 302.6 428.2 291.9 425.7 284.4 419.9 274.6 415.1 263.7 412.9 261.6 409.9 260.4 406.1 259.8 402.4 260.3 399.6 261.9 398 264.1 397.4 267.1 398 270.9 399.9 275.4 405.9 286.6 413.2 303.9 415.9 320.8 417.8 329.4 419.5 334.6 421.9 339.3 424.7 343.6 426.4 345.2Z" fill="#d9ff00"/>
<path d="M426.4 334.9L427.9 335.3 429.4 333.9 431.1 327.1 431.2 324.1 430.6 315.9 430.9 306.9 430.5 303.9 426.2 293.4 424.1 285.9 417.9 275.4 414.4 265.1 412.9 263.5 411.4 263 406.9 263.2 404.6 264.1 402.6 266.4 402 269.4 402.4 272.4 403.9 276.1 408.8 285.1 415.7 300.9 416.9 304.6 418.6 315.1 421.3 326.4 423.4 331.3Z" fill="#f2ff00"/>
<path d="M424.1 311.4L424.9 311.5 425.6 311.1 426.4 309.9 427.1 306.9 426.9 304.6 425.6 301.9 421.4 296.4 421.2 288.9 420.4 285.9 415.3 279.1 414.1 275.4 412.9 267.8 412.1 266.4 410.6 266.3 409.1 267.1 407.6 268.6 407.1 270.9 407.5 273.1 408.6 275.4 412.6 281.4 415.9 289.7 420.6 296.4 421.1 305.7 422.6 309.6Z" fill="#fff200"/>
<path d="M468.4 306.4L465.7 291.9 462.1 279.1 455.7 264.9 449.9 249.1 445.8 241.6 442.7 231.9 441.4 229.6 432.8 222.1" fill="none" stroke="#333" stroke-opacity="0.5" stroke-width="0.5"/>
<path d="M466.6 346.6L464.1 333.1 461.8 316.6 459.1 292.6 457.5 283.6 448.9 266.6 442.9 256.2 436.1 246.9 434.8 243.9 431.9 234.1 428.9 230.4 420.2 222.1" fill="none" stroke="#333" stroke-opacity="0.5" stroke-width="0.5" stroke-dasharray="3 1 1 1"/>
<path d="M456.3 346.6L454.1 322.6 452.3 296.4 451.4 290.4 450 285.9 447.4 280.6 444 275.4 432.4 261.3 427.1 253.8 424.9 249.9 420.4 239.7 417.4 234.9 412 228.9 404 222.1" fill="none" stroke="#333" stroke-opacity="0.5" stroke-width="0.5"/>
<path d="M341.9 346.6L342.3 344.4 343.1 342.8 345.4 341.5 348.4 341 351.6 341.4 354.4 342.6 356 344.4 356.8 346.6M448.1 346.6L447.8 335.4 444.8 300.1 443 291.9 439.9 284.8 433.9 275.4 426.6 265.6 419.6 254 414.4 247 409.9 242.1 403.9 237.1 396.4 232.3 387.4 227.8 374.3 222.1M379.9 344.5L378.3 342.9 377.1 339.9 376.5 336.1 376.8 332.4 377.9 328.6 379.5 325.6 381.4 324 383.6 323.5 385.9 324.9 386.8 327.1 386.9 330.9 386.1 339.1 385.4 342.1 384.4 343.7 382.9 344.6 380.6 344.8" fill="none" stroke="#333" stroke-opacity="0.5" stroke-width="0.5" stroke-dasharray="3 1 1 1"/>
<path d="M440 346.6L440.7 342.1 440.6 336.9 438.5 312.1 436.5 298.6 434.6 293.4 428.6 280.5 422.6 270.5 418.1 261.9 415.8 258.9 412.1 255.6 407.6 252.8 402.4 250.6 397.9 249.5 392.6 248.9 387.4 249.1 382.9 249.9 377.6 252 374.5 254.4 372.6 257.4 372.3 258.9 372.6 261.1 374.2 264.1 376.8 267.1 392.6 280.8 394.9 283.7 397.1 288.1 402.6 302.4 404.3 308.4 408.2 337.6 409.9 346.6" fill="none" stroke="#333" stroke-opacity="0.5" stroke-width="0.5"/>
<path d="M424.1 311.4L424.9 311.5 425.6 311.1 426.4 309.9 427.1 306.9 426.9 304.6 425.6 301.9 421.4 296.4 421.2 288.9 420.4 285.9 415.3 279.1 414.1 275.4 412.9 267.8 412.1 266.4 410.6 266.3 409.1 267.1 407.6 268.6 407.1 270.9 407.5 273.1 408.6 275.4 412.6 281.4 415.9 289.7 420.6 296.4 421.1 305.7 422.6 309.6 424.1 311.4" fill="none" stroke="#333" stroke-opacity="0.5" stroke-width="0.5" stroke-dasharray="3 1 1 1"/>
</g>
<rect x="486.0" y="34.2" width="20.0" height="2.2" fill="#6aabab"/>
<rect x="486.0" y="149.21" width="20.0" height="3.19" fill="#000dff"/>
<rect x="486.0" y="146.31" width="20.0" height="3.19" fill="#0026ff"/>
<rect x="486.0" y="143.42" width="20.0" height="3.19" fill="#0040ff"/>
<rect x="486.0" y="140.53" width="20.0" height="3.19" fill="#0059ff"/>
<rect x="486.0" y="137.64" width="20.0" height="3.19" fill="#0073ff"/>
<rect x="486.0" y="134.75" width="20.0" height="3.19" fill="#008cff"/>
<rect x="486.0" y="131.85" width="20.0" height="3.19" fill="#00a6ff"/>
<rect x="486.0" y="128.96" width="20.0" height="3.19" fill="#00bfff"/>
<rect x="486.0" y="126.07" width="20.0" height="3.19" fill="#00d9ff"/>
<rect x="486.0" y="123.17" width="20.0" height="3.19" fill="#00f2ff"/>
<rect x="486.0" y="120.28" width="20.0" height="3.19" fill="#00fff2"/>
<rect x="486.0" y="117.39" width="20.0" height="3.19" fill="#00ffd9"/>
<rect x="486.0" y="114.50" width="20.0" height="3.19" fill="#00ffbf"/>
<rect x="486.0" y="111.61" width="20.0" height="3.19" fill="#00ffa6"/>
<rect x="486.0" y="108.71" width="20.0" height="3.19" fill="#00ff8c"/>
<rect x="486.0" y="105.82" width="20.0" height="3.19" fill="#00ff73"/>
<rect x="486.0" y="102.93" width="20.0" height="3.19" fill="#00ff59"/>
<rect x="486.0" y="100.03" width="20.0" height="3.19" fill="#00ff40"/>
<rect x="486.0" y="97.14" width="20.0" height="3.19" fill="#00ff26"/>
<rect x="486.0" y="94.25" width="20.0" height="3.19" fill="#00ff0d"/>
<rect x="486.0" y="91.36" width="20.0" height="3.19" fill="#0dff00"/>
<rect x="486.0" y="88.47" width="20.0" height="3.19" fill="#26ff00"/>
<rect x="486.0" y="85.57" width="20.0" height="3.19" fill="#40ff00"/>
<rect x="486.0" y="82.68" width="20.0" height="3.19" fill="#59ff00"/>
<rect x="486.0" y="79.79" width="20.0" height="3.19" fill="#73ff00"/>
<rect x="486.0" y="76.89" width="20.0" height="3.19" fill="#8cff00"/>
<rect x="486.0" y="74.00" width="20.0" height="3.19" fill="#a6ff00"/>
<rect x="486.0" y="71.11" width="20.0" height="3.19" fill="#bfff00"/>
<rect x="486.0" y="68.22" width="20.0" height="3.19" fill="#d9ff00"/>
<rect x="486.0" y="65.33" width="20.0" height="3.19" fill="#f2ff00"/>
<rect x="486.0" y="62.43" width="20.0" height="3.19" fill="#fff200"/>
<rect x="486.0" y="59.54" width="20.0" height="3.19" fill="#ffd900"/>
<rect x="486.0" y="56.65" width="20.0" height="3.19" fill="#ffbf00"/>
<rect x="486.0" y="53.75" width="20.0" height="3.19" fill="#ffa600"/>
<rect x="486.0" y="50.86" width="20.0" height="3.19" fill="#ff8c00"/>
<rect x="486.0" y="47.97" width="20.0" height="3.19" fill="#ff7300"/>
<rect x="486.0" y="45.08" width="20.0" height="3.19" fill="#ff5900"/>
<rect x="486.0" y="42.19" width="20.0" height="3.19" fill="#ff4000"/>
<rect x="486.0" y="39.29" width="20.0" height="3.19" fill="#ff2600"/>
<rect x="486.0" y="36.40" width="20.0" height="3.19" fill="#ff0d00"/>
<rect x="486.0" y="152.1" width="20.0" height="2.3" fill="#000"/>
<rect x="486.0" y="34.2" width="20.0" height="120.2" fill="none" stroke="#333" stroke-width="0.5"/>
<line x1="506.0" x2="508.5" y1="152.1" y2="152.1" stroke="#666" stroke-width="0.8"/>
<text x="510.5" y="154.7" style="font-size:7.5px">1.00</text>
<line x1="506.0" x2="508.5" y1="137.6" y2="137.6" stroke="#666" stroke-width="0.8"/>
<text x="510.5" y="140.2" style="font-size:7.5px">1.88</text>
<line x1="506.0" x2="508.5" y1="123.2" y2="123.2" stroke="#666" stroke-width="0.8"/>
<text x="510.5" y="125.8" style="font-size:7.5px">2.76</text>
<line x1="506.0" x2="508.5" y1="108.7" y2="108.7" stroke="#666" stroke-width="0.8"/>
<text x="510.5" y="111.3" style="font-size:7.5px">3.64</text>
<line x1="506.0" x2="508.5" y1="94.2" y2="94.2" stroke="#666" stroke-width="0.8"/>
<text x="510.5" y="96.8" style="font-size:7.5px">4.52</text>
<line x1="506.0" x2="508.5" y1="79.8" y2="79.8" stroke="#666" stroke-width="0.8"/>
<text x="510.5" y="82.4" style="font-size:7.5px">5.40</text>
<line x1="506.0" x2="508.5" y1="65.3" y2="65.3" stroke="#666" stroke-width="0.8"/>
<text x="510.5" y="67.9" style="font-size:7.5px">6.28</text>
<line x1="506.0" x2="508.5" y1="50.9" y2="50.9" stroke="#666" stroke-width="0.8"/>
<text x="510.5" y="53.5" style="font-size:7.5px">7.16</text>
<line x1="506.0" x2="508.5" y1="36.4" y2="36.4" stroke="#666" stroke-width="0.8"/>
<text x="510.5" y="39.0" style="font-size:7.5px">8.04</text>
<rect x="488.2" y="222.2" width="18.6" height="2.2" fill="#6aabab"/>
<rect x="488.2" y="337.60" width="18.6" height="3.20" fill="#000dff"/>
<rect x="488.2" y="334.69" width="18.6" height="3.20" fill="#0026ff"/>
<rect x="488.2" y="331.79" width="18.6" height="3.20" fill="#0040ff"/>
<rect x="488.2" y="328.89" width="18.6" height="3.20" fill="#0059ff"/>
<rect x="488.2" y="325.99" width="18.6" height="3.20" fill="#0073ff"/>
<rect x="488.2" y="323.08" width="18.6" height="3.20" fill="#008cff"/>
<rect x="488.2" y="320.18" width="18.6" height="3.20" fill="#00a6ff"/>
<rect x="488.2" y="317.28" width="18.6" height="3.20" fill="#00bfff"/>
<rect x="488.2" y="314.38" width="18.6" height="3.20" fill="#00d9ff"/>
<rect x="488.2" y="311.48" width="18.6" height="3.20" fill="#00f2ff"/>
<rect x="488.2" y="308.57" width="18.6" height="3.20" fill="#00fff2"/>
<rect x="488.2" y="305.67" width="18.6" height="3.20" fill="#00ffd9"/>
<rect x="488.2" y="302.77" width="18.6" height="3.20" fill="#00ffbf"/>
<rect x="488.2" y="299.87" width="18.6" height="3.20" fill="#00ffa6"/>
<rect x="488.2" y="296.96" width="18.6" height="3.20" fill="#00ff8c"/>
<rect x="488.2" y="294.06" width="18.6" height="3.20" fill="#00ff73"/>
<rect x="488.2" y="291.16" width="18.6" height="3.20" fill="#00ff59"/>
<rect x="488.2" y="288.25" width="18.6" height="3.20" fill="#00ff40"/>
<rect x="488.2" y="285.35" width="18.6" height="3.20" fill="#00ff26"/>
<rect x="488.2" y="282.45" width="18.6" height="3.20" fill="#00ff0d"/>
<rect x="488.2" y="279.55" width="18.6" height="3.20" fill="#0dff00"/>
<rect x="488.2" y="276.64" width="18.6" height="3.20" fill="#26ff00"/>
<rect x="488.2" y="273.74" width="18.6" height="3.20" fill="#40ff00"/>
<rect x="488.2" y="270.84" width="18.6" height="3.20" fill="#59ff00"/>
<rect x="488.2" y="267.94" width="18.6" height="3.20" fill="#73ff00"/>
<rect x="488.2" y="265.03" width="18.6" height="3.20" fill="#8cff00"/>
<rect x="488.2" y="262.13" width="18.6" height="3.20" fill="#a6ff00"/>
<rect x="488.2" y="259.23" width="18.6" height="3.20" fill="#bfff00"/>
<rect x="488.2" y="256.33" width="18.6" height="3.20" fill="#d9ff00"/>
<rect x="488.2" y="253.42" width="18.6" height="3.20" fill="#f2ff00"/>
<rect x="488.2" y="250.52" width="18.6" height="3.20" fill="#fff200"/>
<rect x="488.2" y="247.62" width="18.6" height="3.20" fill="#ffd900"/>
<rect x="488.2" y="244.72" width="18.6" height="3.20" fill="#ffbf00"/>
<rect x="488.2" y="241.81" width="18.6" height="3.20" fill="#ffa600"/>
<rect x="488.2" y="238.91" width="18.6" height="3.20" fill="#ff8c00"/>
<rect x="488.2" y="236.01" width="18.6" height="3.20" fill="#ff7300"/>
<rect x="488.2" y="233.11" width="18.6" height="3.20" fill="#ff5900"/>
<rect x="488.2" y="230.20" width="18.6" height="3.20" fill="#ff4000"/>
<rect x="488.2" y="227.30" width="18.6" height="3.20" fill="#ff2600"/>
<rect x="488.2" y="224.40" width="18.6" height="3.20" fill="#ff0d00"/>
<rect x="488.2" y="340.5" width="18.6" height="2.2" fill="#000"/>
<rect x="488.2" y="222.2" width="18.6" height="120.5" fill="none" stroke="#333" stroke-width="0.5"/>
<line x1="506.8" x2="509.3" y1="340.5" y2="340.5" stroke="#666" stroke-width="0.8"/>
<text x="511.8" y="342.9" style="font-size:6.8px">0.05</text>
<line x1="506.8" x2="509.3" y1="326.0" y2="326.0" stroke="#666" stroke-width="0.8"/>
<text x="511.8" y="328.4" style="font-size:6.8px">0.51</text>
<line x1="506.8" x2="509.3" y1="311.5" y2="311.5" stroke="#666" stroke-width="0.8"/>
<text x="511.8" y="313.9" style="font-size:6.8px">0.97</text>
<line x1="506.8" x2="509.3" y1="297.0" y2="297.0" stroke="#666" stroke-width="0.8"/>
<text x="511.8" y="299.4" style="font-size:6.8px">1.43</text>
<line x1="506.8" x2="509.3" y1="282.4" y2="282.4" stroke="#666" stroke-width="0.8"/>
<text x="511.8" y="284.8" style="font-size:6.8px">1.89</text>
<line x1="506.8" x2="509.3" y1="267.9" y2="267.9" stroke="#666" stroke-width="0.8"/>
<text x="511.8" y="270.3" style="font-size:6.8px">2.35</text>
<line x1="506.8" x2="509.3" y1="253.4" y2="253.4" stroke="#666" stroke-width="0.8"/>
<text x="511.8" y="255.8" style="font-size:6.8px">2.81</text>
<line x1="506.8" x2="509.3" y1="238.9" y2="238.9" stroke="#666" stroke-width="0.8"/>
<text x="511.8" y="241.3" style="font-size:6.8px">3.27</text>
<line x1="506.8" x2="509.3" y1="224.4" y2="224.4" stroke="#666" stroke-width="0.8"/>
<text x="511.8" y="226.8" style="font-size:6.8px">3.73</text>
<text x="216.6" y="8.5" style="font-size:10.5px" textLength="86.4" lengthAdjust="spacingAndGlyphs">Acoustic Modes</text>
<text x="223.3" y="190.4" style="font-size:10.5px" textLength="77" lengthAdjust="spacingAndGlyphs">Optical Modes</text>
<text x="0.2" y="43.1" style="font-size:13px">(a)</text>
<text x="163.6" y="43.2" style="font-size:13px">(b)</text>
<text x="319.3" y="41" style="font-size:13px">(c)</text>
<text x="-0.1" y="233.6" style="font-size:13px">(d)</text>
<text x="164.2" y="233.6" style="font-size:13px">(e)</text>
<text x="320.4" y="233" style="font-size:13px">(f)</text>
<text x="57.9" y="34.9" style="font-size:10.3px">TA</text><text x="71.9" y="37.8" style="font-size:7.6px">x</text>
<text x="230.6" y="35" style="font-size:10.3px">TA</text><text x="244.3" y="37.3" style="font-size:7.2px">y</text>
<text x="388.3" y="35.4" style="font-size:10.3px">LA</text>
<text x="51.6" y="224.7" style="font-size:10.3px">1TO</text><text x="71.8" y="227.8" style="font-size:7.6px">x</text>
<text x="224.2" y="224.7" style="font-size:10.3px">1TO</text><text x="244.2" y="227.3" style="font-size:7.2px">y</text>
<text x="382.7" y="225.3" style="font-size:10.3px">1LO</text>
<g style="font-size:8.5px">
<text x="119.2" y="43">111</text><text x="7.6" y="166.6">001</text><text x="135.8" y="165.1">101</text>
<text x="282.4" y="41.7">111</text><text x="170.4" y="165.5">001</text><text x="298.4" y="164.3">101</text>
<text x="445.2" y="40">111</text><text x="333.4" y="163.6">001</text><text x="461.5" y="162.7">101</text>
<text x="116.7" y="232.5">111</text><text x="5.3" y="356.1">001</text><text x="132.9" y="355">101</text>
<text x="284.4" y="232">111</text><text x="170.7" y="355.3">001</text><text x="299.5" y="354.5">101</text>
<text x="444.8" y="230.7">111</text><text x="333.4" y="354.2">001</text><text x="461.1" y="353.3">101</text>
</g>
<text x="442.1" y="24.7" style="font-size:9.3px" textLength="90" lengthAdjust="spacingAndGlyphs">Conductivity (W/m.K)</text>
<text x="442.1" y="215.2" style="font-size:9.3px" textLength="89.6" lengthAdjust="spacingAndGlyphs">Conductivity (W/m.K)</text>
<text x="86.9" y="90" style="font-size:6px">112</text>
<line x1="89.9" y1="83" x2="89.9" y2="71.5" stroke="#000" stroke-width="1.1"/>
<path d="M88.7 73.8L89.3 69.6L90.5 69.6L91.1 73.8Z" fill="#000"/>
<text x="270.1" y="145" style="font-size:6.5px;font-weight:normal">210</text>
<line x1="271.9" y1="144.3" x2="266.5" y2="152.5" stroke="#000" stroke-width="0.7"/>
<path d="M265.2 151.3L265.5 154.3L267.6 152.4Z" fill="#000"/>
<text x="93.7" y="336.6" style="font-size:6.5px;font-weight:normal">210</text>
<line x1="95.1" y1="336.3" x2="89" y2="344.8" stroke="#000" stroke-width="0.7"/>
<path d="M87.8 343.8L88.1 346.6L90.2 345.1Z" fill="#000"/>
<text x="423.2" y="291.9" style="font-size:6.5px;font-weight:normal">214</text>
<line x1="427.6" y1="292.6" x2="423" y2="297.6" stroke="#000" stroke-width="0.7"/>
<path d="M421.6 296.8L422.1 298.9L424.1 298Z" fill="#000"/>
<circle cx="83.4" cy="323.6" r="0.7" fill="#7a9ad0"/>

</svg></body></html>
